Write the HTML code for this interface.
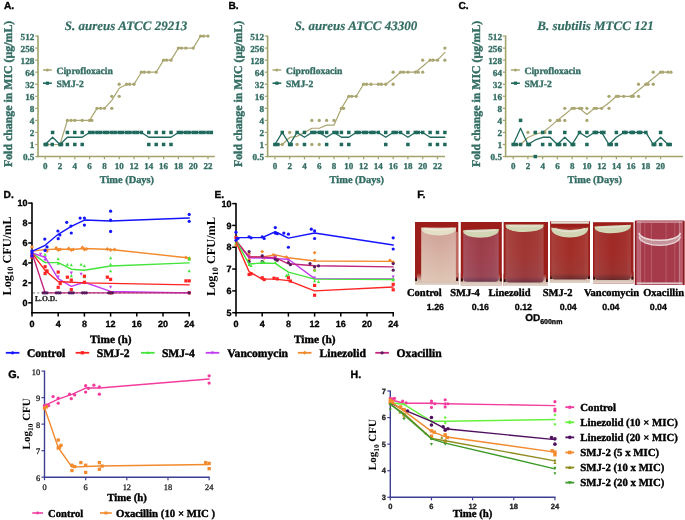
<!DOCTYPE html>
<html><head><meta charset="utf-8"><style>
html,body{margin:0;padding:0;background:#fff;}
body{width:685px;height:520px;overflow:hidden;}
svg{display:block;will-change:transform;}
text{text-rendering:geometricPrecision;}
</style></head><body>
<svg width="685" height="520" viewBox="0 0 685 520">
<rect width="685" height="520" fill="#fff"/>
<line x1="38" y1="35.55" x2="38" y2="157.25" stroke="#a1a36b" stroke-width="1.6"/>
<line x1="37.3" y1="156.55" x2="214.8" y2="156.55" stroke="#a1a36b" stroke-width="1.6"/>
<line x1="35.2" y1="156.55" x2="38" y2="156.55" stroke="#a1a36b" stroke-width="1.2"/>
<text x="34.4" y="160.25" font-family='"Liberation Serif", serif' font-size="9.2" font-weight="bold" fill="#336d63" stroke="#336d63" stroke-width="0.32" text-anchor="end">0.5</text>
<line x1="35.2" y1="144.5" x2="38" y2="144.5" stroke="#a1a36b" stroke-width="1.2"/>
<text x="34.4" y="148.2" font-family='"Liberation Serif", serif' font-size="9.2" font-weight="bold" fill="#336d63" stroke="#336d63" stroke-width="0.32" text-anchor="end">1</text>
<line x1="35.2" y1="132.45" x2="38" y2="132.45" stroke="#a1a36b" stroke-width="1.2"/>
<text x="34.4" y="136.15" font-family='"Liberation Serif", serif' font-size="9.2" font-weight="bold" fill="#336d63" stroke="#336d63" stroke-width="0.32" text-anchor="end">2</text>
<line x1="35.2" y1="120.4" x2="38" y2="120.4" stroke="#a1a36b" stroke-width="1.2"/>
<text x="34.4" y="124.1" font-family='"Liberation Serif", serif' font-size="9.2" font-weight="bold" fill="#336d63" stroke="#336d63" stroke-width="0.32" text-anchor="end">4</text>
<line x1="35.2" y1="108.35" x2="38" y2="108.35" stroke="#a1a36b" stroke-width="1.2"/>
<text x="34.4" y="112.05" font-family='"Liberation Serif", serif' font-size="9.2" font-weight="bold" fill="#336d63" stroke="#336d63" stroke-width="0.32" text-anchor="end">8</text>
<line x1="35.2" y1="96.3" x2="38" y2="96.3" stroke="#a1a36b" stroke-width="1.2"/>
<text x="34.4" y="100" font-family='"Liberation Serif", serif' font-size="9.2" font-weight="bold" fill="#336d63" stroke="#336d63" stroke-width="0.32" text-anchor="end">16</text>
<line x1="35.2" y1="84.25" x2="38" y2="84.25" stroke="#a1a36b" stroke-width="1.2"/>
<text x="34.4" y="87.95" font-family='"Liberation Serif", serif' font-size="9.2" font-weight="bold" fill="#336d63" stroke="#336d63" stroke-width="0.32" text-anchor="end">32</text>
<line x1="35.2" y1="72.2" x2="38" y2="72.2" stroke="#a1a36b" stroke-width="1.2"/>
<text x="34.4" y="75.9" font-family='"Liberation Serif", serif' font-size="9.2" font-weight="bold" fill="#336d63" stroke="#336d63" stroke-width="0.32" text-anchor="end">64</text>
<line x1="35.2" y1="60.15" x2="38" y2="60.15" stroke="#a1a36b" stroke-width="1.2"/>
<text x="34.4" y="63.85" font-family='"Liberation Serif", serif' font-size="9.2" font-weight="bold" fill="#336d63" stroke="#336d63" stroke-width="0.32" text-anchor="end">128</text>
<line x1="35.2" y1="48.1" x2="38" y2="48.1" stroke="#a1a36b" stroke-width="1.2"/>
<text x="34.4" y="51.8" font-family='"Liberation Serif", serif' font-size="9.2" font-weight="bold" fill="#336d63" stroke="#336d63" stroke-width="0.32" text-anchor="end">256</text>
<line x1="35.2" y1="36.05" x2="38" y2="36.05" stroke="#a1a36b" stroke-width="1.2"/>
<text x="34.4" y="39.75" font-family='"Liberation Serif", serif' font-size="9.2" font-weight="bold" fill="#336d63" stroke="#336d63" stroke-width="0.32" text-anchor="end">512</text>
<line x1="45.2" y1="156.55" x2="45.2" y2="159.35" stroke="#a1a36b" stroke-width="1.2"/>
<text x="45.2" y="168.8" font-family='"Liberation Serif", serif' font-size="9" font-weight="bold" fill="#336d63" stroke="#336d63" stroke-width="0.32" text-anchor="middle">0</text>
<line x1="60" y1="156.55" x2="60" y2="159.35" stroke="#a1a36b" stroke-width="1.2"/>
<text x="60" y="168.8" font-family='"Liberation Serif", serif' font-size="9" font-weight="bold" fill="#336d63" stroke="#336d63" stroke-width="0.32" text-anchor="middle">2</text>
<line x1="74.8" y1="156.55" x2="74.8" y2="159.35" stroke="#a1a36b" stroke-width="1.2"/>
<text x="74.8" y="168.8" font-family='"Liberation Serif", serif' font-size="9" font-weight="bold" fill="#336d63" stroke="#336d63" stroke-width="0.32" text-anchor="middle">4</text>
<line x1="89.6" y1="156.55" x2="89.6" y2="159.35" stroke="#a1a36b" stroke-width="1.2"/>
<text x="89.6" y="168.8" font-family='"Liberation Serif", serif' font-size="9" font-weight="bold" fill="#336d63" stroke="#336d63" stroke-width="0.32" text-anchor="middle">6</text>
<line x1="104.4" y1="156.55" x2="104.4" y2="159.35" stroke="#a1a36b" stroke-width="1.2"/>
<text x="104.4" y="168.8" font-family='"Liberation Serif", serif' font-size="9" font-weight="bold" fill="#336d63" stroke="#336d63" stroke-width="0.32" text-anchor="middle">8</text>
<line x1="119.2" y1="156.55" x2="119.2" y2="159.35" stroke="#a1a36b" stroke-width="1.2"/>
<text x="119.2" y="168.8" font-family='"Liberation Serif", serif' font-size="9" font-weight="bold" fill="#336d63" stroke="#336d63" stroke-width="0.32" text-anchor="middle">10</text>
<line x1="134" y1="156.55" x2="134" y2="159.35" stroke="#a1a36b" stroke-width="1.2"/>
<text x="134" y="168.8" font-family='"Liberation Serif", serif' font-size="9" font-weight="bold" fill="#336d63" stroke="#336d63" stroke-width="0.32" text-anchor="middle">12</text>
<line x1="148.8" y1="156.55" x2="148.8" y2="159.35" stroke="#a1a36b" stroke-width="1.2"/>
<text x="148.8" y="168.8" font-family='"Liberation Serif", serif' font-size="9" font-weight="bold" fill="#336d63" stroke="#336d63" stroke-width="0.32" text-anchor="middle">14</text>
<line x1="163.6" y1="156.55" x2="163.6" y2="159.35" stroke="#a1a36b" stroke-width="1.2"/>
<text x="163.6" y="168.8" font-family='"Liberation Serif", serif' font-size="9" font-weight="bold" fill="#336d63" stroke="#336d63" stroke-width="0.32" text-anchor="middle">16</text>
<line x1="178.4" y1="156.55" x2="178.4" y2="159.35" stroke="#a1a36b" stroke-width="1.2"/>
<text x="178.4" y="168.8" font-family='"Liberation Serif", serif' font-size="9" font-weight="bold" fill="#336d63" stroke="#336d63" stroke-width="0.32" text-anchor="middle">18</text>
<line x1="193.2" y1="156.55" x2="193.2" y2="159.35" stroke="#a1a36b" stroke-width="1.2"/>
<text x="193.2" y="168.8" font-family='"Liberation Serif", serif' font-size="9" font-weight="bold" fill="#336d63" stroke="#336d63" stroke-width="0.32" text-anchor="middle">20</text>
<line x1="208" y1="156.55" x2="208" y2="159.35" stroke="#a1a36b" stroke-width="1.2"/>
<text x="208" y="168.8" font-family='"Liberation Serif", serif' font-size="9" font-weight="bold" fill="#336d63" stroke="#336d63" stroke-width="0.32" text-anchor="middle">22</text>
<text x="12.2" y="93.9" font-family='"Liberation Serif", serif' font-size="11.85" font-weight="bold" fill="#336d63" stroke="#336d63" stroke-width="0.41" text-anchor="middle" transform="rotate(-90 12.2 93.9)">Fold change in MIC (µg/mL)</text>
<text x="126.9" y="182.8" font-family='"Liberation Serif", serif' font-size="10.4" font-weight="bold" fill="#336d63" stroke="#336d63" stroke-width="0.36" text-anchor="middle">Time (Days)</text>
<text x="126" y="29.7" font-family='"Liberation Serif", serif' font-size="13" font-weight="bold" font-style="italic" fill="#336d63" stroke="#336d63" stroke-width="0.2" text-anchor="middle">S. aureus ATCC 29213</text>
<text x="4" y="9.2" font-family='"Liberation Sans", sans-serif' font-size="10.2" font-weight="bold" fill="#000" stroke="#000" stroke-width="0.36" text-anchor="start">A.</text>
<circle cx="45.2" cy="144.5" r="1.65" fill="#aaa671"/>
<circle cx="52.6" cy="144.5" r="1.65" fill="#aaa671"/>
<circle cx="60" cy="144.5" r="1.65" fill="#aaa671"/>
<circle cx="67.4" cy="120.4" r="1.65" fill="#aaa671"/>
<circle cx="71.1" cy="120.4" r="1.65" fill="#aaa671"/>
<circle cx="74.8" cy="120.4" r="1.65" fill="#aaa671"/>
<circle cx="82.2" cy="120.4" r="1.65" fill="#aaa671"/>
<circle cx="89.6" cy="120.4" r="1.65" fill="#aaa671"/>
<circle cx="91.82" cy="120.4" r="1.65" fill="#aaa671"/>
<circle cx="97" cy="108.35" r="1.65" fill="#aaa671"/>
<circle cx="100.7" cy="108.35" r="1.65" fill="#aaa671"/>
<circle cx="104.4" cy="108.35" r="1.65" fill="#aaa671"/>
<circle cx="111.8" cy="108.35" r="1.65" fill="#aaa671"/>
<circle cx="111.8" cy="96.3" r="1.65" fill="#aaa671"/>
<circle cx="119.2" cy="84.25" r="1.65" fill="#aaa671"/>
<circle cx="119.2" cy="96.3" r="1.65" fill="#aaa671"/>
<circle cx="126.6" cy="84.25" r="1.65" fill="#aaa671"/>
<circle cx="129.56" cy="84.25" r="1.65" fill="#aaa671"/>
<circle cx="134" cy="84.25" r="1.65" fill="#aaa671"/>
<circle cx="141.4" cy="72.2" r="1.65" fill="#aaa671"/>
<circle cx="144.36" cy="72.2" r="1.65" fill="#aaa671"/>
<circle cx="148.8" cy="72.2" r="1.65" fill="#aaa671"/>
<circle cx="156.2" cy="72.2" r="1.65" fill="#aaa671"/>
<circle cx="163.6" cy="60.15" r="1.65" fill="#aaa671"/>
<circle cx="166.56" cy="60.15" r="1.65" fill="#aaa671"/>
<circle cx="171" cy="60.15" r="1.65" fill="#aaa671"/>
<circle cx="178.4" cy="48.1" r="1.65" fill="#aaa671"/>
<circle cx="181.36" cy="48.1" r="1.65" fill="#aaa671"/>
<circle cx="185.8" cy="48.1" r="1.65" fill="#aaa671"/>
<circle cx="193.2" cy="48.1" r="1.65" fill="#aaa671"/>
<circle cx="200.6" cy="36.05" r="1.65" fill="#aaa671"/>
<circle cx="203.56" cy="36.05" r="1.65" fill="#aaa671"/>
<circle cx="208" cy="36.05" r="1.65" fill="#aaa671"/>
<polyline points="45.2,144.5 52.6,144.5 60,144.5 67.4,120.4 74.8,120.4 82.2,120.4 89.6,120.4 97,108.35 104.4,108.35 111.8,100.32 119.2,88.27 126.6,84.25 134,84.25 141.4,72.2 148.8,72.2 156.2,72.2 163.6,60.15 171,60.15 178.4,48.1 185.8,48.1 193.2,48.1 200.6,36.05 208,36.05" fill="none" stroke="#aaa671" stroke-width="1.2" stroke-linejoin="round" stroke-linecap="round"/>
<rect x="43.45" y="142.75" width="3.5" height="3.5" fill="#1f6a5c"/>
<rect x="44.93" y="142.75" width="3.5" height="3.5" fill="#1f6a5c"/>
<rect x="50.48" y="142.75" width="3.5" height="3.5" fill="#1f6a5c"/>
<rect x="50.85" y="130.7" width="3.5" height="3.5" fill="#1f6a5c"/>
<rect x="58.25" y="142.75" width="3.5" height="3.5" fill="#1f6a5c"/>
<rect x="59.73" y="142.75" width="3.5" height="3.5" fill="#1f6a5c"/>
<rect x="65.65" y="130.7" width="3.5" height="3.5" fill="#1f6a5c"/>
<rect x="65.65" y="142.75" width="3.5" height="3.5" fill="#1f6a5c"/>
<rect x="73.05" y="130.7" width="3.5" height="3.5" fill="#1f6a5c"/>
<rect x="73.05" y="142.75" width="3.5" height="3.5" fill="#1f6a5c"/>
<rect x="80.45" y="130.7" width="3.5" height="3.5" fill="#1f6a5c"/>
<rect x="80.45" y="142.75" width="3.5" height="3.5" fill="#1f6a5c"/>
<rect x="87.85" y="130.7" width="3.5" height="3.5" fill="#1f6a5c"/>
<rect x="95.25" y="130.7" width="3.5" height="3.5" fill="#1f6a5c"/>
<rect x="102.65" y="130.7" width="3.5" height="3.5" fill="#1f6a5c"/>
<rect x="110.05" y="130.7" width="3.5" height="3.5" fill="#1f6a5c"/>
<rect x="117.45" y="130.7" width="3.5" height="3.5" fill="#1f6a5c"/>
<rect x="124.85" y="130.7" width="3.5" height="3.5" fill="#1f6a5c"/>
<rect x="132.25" y="130.7" width="3.5" height="3.5" fill="#1f6a5c"/>
<rect x="139.65" y="130.7" width="3.5" height="3.5" fill="#1f6a5c"/>
<rect x="147.05" y="130.7" width="3.5" height="3.5" fill="#1f6a5c"/>
<rect x="154.45" y="130.7" width="3.5" height="3.5" fill="#1f6a5c"/>
<rect x="161.85" y="130.7" width="3.5" height="3.5" fill="#1f6a5c"/>
<rect x="169.25" y="130.7" width="3.5" height="3.5" fill="#1f6a5c"/>
<rect x="176.65" y="130.7" width="3.5" height="3.5" fill="#1f6a5c"/>
<rect x="184.05" y="130.7" width="3.5" height="3.5" fill="#1f6a5c"/>
<rect x="191.45" y="130.7" width="3.5" height="3.5" fill="#1f6a5c"/>
<rect x="198.85" y="130.7" width="3.5" height="3.5" fill="#1f6a5c"/>
<rect x="206.25" y="130.7" width="3.5" height="3.5" fill="#1f6a5c"/>
<rect x="91.18" y="130.7" width="3.5" height="3.5" fill="#1f6a5c"/>
<rect x="98.58" y="130.7" width="3.5" height="3.5" fill="#1f6a5c"/>
<rect x="105.98" y="130.7" width="3.5" height="3.5" fill="#1f6a5c"/>
<rect x="113.38" y="130.7" width="3.5" height="3.5" fill="#1f6a5c"/>
<rect x="120.78" y="130.7" width="3.5" height="3.5" fill="#1f6a5c"/>
<rect x="128.18" y="130.7" width="3.5" height="3.5" fill="#1f6a5c"/>
<rect x="135.58" y="130.7" width="3.5" height="3.5" fill="#1f6a5c"/>
<rect x="179.98" y="130.7" width="3.5" height="3.5" fill="#1f6a5c"/>
<rect x="187.38" y="130.7" width="3.5" height="3.5" fill="#1f6a5c"/>
<rect x="194.78" y="130.7" width="3.5" height="3.5" fill="#1f6a5c"/>
<rect x="202.18" y="130.7" width="3.5" height="3.5" fill="#1f6a5c"/>
<rect x="209.58" y="130.7" width="3.5" height="3.5" fill="#1f6a5c"/>
<rect x="147.05" y="142.75" width="3.5" height="3.5" fill="#1f6a5c"/>
<rect x="154.45" y="142.75" width="3.5" height="3.5" fill="#1f6a5c"/>
<rect x="161.85" y="142.75" width="3.5" height="3.5" fill="#1f6a5c"/>
<rect x="169.25" y="142.75" width="3.5" height="3.5" fill="#1f6a5c"/>
<polyline points="45.2,144.5 52.6,137.27 60,144.5 67.4,137.27 74.8,137.27 82.2,137.27 89.6,132.45 97,132.45 104.4,132.45 111.8,132.45 119.2,132.45 126.6,132.45 134,132.45 141.4,132.45 148.8,137.27 156.2,137.27 163.6,137.27 171,137.27 178.4,132.45 185.8,132.45 193.2,132.45 200.6,132.45 208,132.45" fill="none" stroke="#1f6a5c" stroke-width="1.3" stroke-linejoin="round" stroke-linecap="round"/>
<line x1="43" y1="70" x2="51.8" y2="70" stroke="#aaa671" stroke-width="1.5"/>
<circle cx="47.4" cy="70" r="1.5" fill="#aaa671"/>
<text x="56.5" y="73.77" font-family='"Liberation Serif", serif' font-size="9.6" font-weight="bold" fill="#336d63" stroke="#336d63" stroke-width="0.34" text-anchor="start">Ciprofloxacin</text>
<line x1="43" y1="83.2" x2="51.8" y2="83.2" stroke="#1f6a5c" stroke-width="1.6"/>
<rect x="45.8" y="81.6" width="3.2" height="3.2" fill="#1f6a5c"/>
<text x="56.5" y="86.97" font-family='"Liberation Serif", serif' font-size="9.6" font-weight="bold" fill="#336d63" stroke="#336d63" stroke-width="0.34" text-anchor="start">SMJ-2</text>
<line x1="267.6" y1="35.55" x2="267.6" y2="157.25" stroke="#a1a36b" stroke-width="1.6"/>
<line x1="266.9" y1="156.55" x2="445" y2="156.55" stroke="#a1a36b" stroke-width="1.6"/>
<line x1="264.8" y1="156.55" x2="267.6" y2="156.55" stroke="#a1a36b" stroke-width="1.2"/>
<text x="264" y="160.25" font-family='"Liberation Serif", serif' font-size="9.2" font-weight="bold" fill="#336d63" stroke="#336d63" stroke-width="0.32" text-anchor="end">0.5</text>
<line x1="264.8" y1="144.5" x2="267.6" y2="144.5" stroke="#a1a36b" stroke-width="1.2"/>
<text x="264" y="148.2" font-family='"Liberation Serif", serif' font-size="9.2" font-weight="bold" fill="#336d63" stroke="#336d63" stroke-width="0.32" text-anchor="end">1</text>
<line x1="264.8" y1="132.45" x2="267.6" y2="132.45" stroke="#a1a36b" stroke-width="1.2"/>
<text x="264" y="136.15" font-family='"Liberation Serif", serif' font-size="9.2" font-weight="bold" fill="#336d63" stroke="#336d63" stroke-width="0.32" text-anchor="end">2</text>
<line x1="264.8" y1="120.4" x2="267.6" y2="120.4" stroke="#a1a36b" stroke-width="1.2"/>
<text x="264" y="124.1" font-family='"Liberation Serif", serif' font-size="9.2" font-weight="bold" fill="#336d63" stroke="#336d63" stroke-width="0.32" text-anchor="end">4</text>
<line x1="264.8" y1="108.35" x2="267.6" y2="108.35" stroke="#a1a36b" stroke-width="1.2"/>
<text x="264" y="112.05" font-family='"Liberation Serif", serif' font-size="9.2" font-weight="bold" fill="#336d63" stroke="#336d63" stroke-width="0.32" text-anchor="end">8</text>
<line x1="264.8" y1="96.3" x2="267.6" y2="96.3" stroke="#a1a36b" stroke-width="1.2"/>
<text x="264" y="100" font-family='"Liberation Serif", serif' font-size="9.2" font-weight="bold" fill="#336d63" stroke="#336d63" stroke-width="0.32" text-anchor="end">16</text>
<line x1="264.8" y1="84.25" x2="267.6" y2="84.25" stroke="#a1a36b" stroke-width="1.2"/>
<text x="264" y="87.95" font-family='"Liberation Serif", serif' font-size="9.2" font-weight="bold" fill="#336d63" stroke="#336d63" stroke-width="0.32" text-anchor="end">32</text>
<line x1="264.8" y1="72.2" x2="267.6" y2="72.2" stroke="#a1a36b" stroke-width="1.2"/>
<text x="264" y="75.9" font-family='"Liberation Serif", serif' font-size="9.2" font-weight="bold" fill="#336d63" stroke="#336d63" stroke-width="0.32" text-anchor="end">64</text>
<line x1="264.8" y1="60.15" x2="267.6" y2="60.15" stroke="#a1a36b" stroke-width="1.2"/>
<text x="264" y="63.85" font-family='"Liberation Serif", serif' font-size="9.2" font-weight="bold" fill="#336d63" stroke="#336d63" stroke-width="0.32" text-anchor="end">128</text>
<line x1="264.8" y1="48.1" x2="267.6" y2="48.1" stroke="#a1a36b" stroke-width="1.2"/>
<text x="264" y="51.8" font-family='"Liberation Serif", serif' font-size="9.2" font-weight="bold" fill="#336d63" stroke="#336d63" stroke-width="0.32" text-anchor="end">256</text>
<line x1="264.8" y1="36.05" x2="267.6" y2="36.05" stroke="#a1a36b" stroke-width="1.2"/>
<text x="264" y="39.75" font-family='"Liberation Serif", serif' font-size="9.2" font-weight="bold" fill="#336d63" stroke="#336d63" stroke-width="0.32" text-anchor="end">512</text>
<line x1="274.9" y1="156.55" x2="274.9" y2="159.35" stroke="#a1a36b" stroke-width="1.2"/>
<text x="274.9" y="168.8" font-family='"Liberation Serif", serif' font-size="9" font-weight="bold" fill="#336d63" stroke="#336d63" stroke-width="0.32" text-anchor="middle">0</text>
<line x1="289.68" y1="156.55" x2="289.68" y2="159.35" stroke="#a1a36b" stroke-width="1.2"/>
<text x="289.68" y="168.8" font-family='"Liberation Serif", serif' font-size="9" font-weight="bold" fill="#336d63" stroke="#336d63" stroke-width="0.32" text-anchor="middle">2</text>
<line x1="304.46" y1="156.55" x2="304.46" y2="159.35" stroke="#a1a36b" stroke-width="1.2"/>
<text x="304.46" y="168.8" font-family='"Liberation Serif", serif' font-size="9" font-weight="bold" fill="#336d63" stroke="#336d63" stroke-width="0.32" text-anchor="middle">4</text>
<line x1="319.24" y1="156.55" x2="319.24" y2="159.35" stroke="#a1a36b" stroke-width="1.2"/>
<text x="319.24" y="168.8" font-family='"Liberation Serif", serif' font-size="9" font-weight="bold" fill="#336d63" stroke="#336d63" stroke-width="0.32" text-anchor="middle">6</text>
<line x1="334.02" y1="156.55" x2="334.02" y2="159.35" stroke="#a1a36b" stroke-width="1.2"/>
<text x="334.02" y="168.8" font-family='"Liberation Serif", serif' font-size="9" font-weight="bold" fill="#336d63" stroke="#336d63" stroke-width="0.32" text-anchor="middle">8</text>
<line x1="348.8" y1="156.55" x2="348.8" y2="159.35" stroke="#a1a36b" stroke-width="1.2"/>
<text x="348.8" y="168.8" font-family='"Liberation Serif", serif' font-size="9" font-weight="bold" fill="#336d63" stroke="#336d63" stroke-width="0.32" text-anchor="middle">10</text>
<line x1="363.58" y1="156.55" x2="363.58" y2="159.35" stroke="#a1a36b" stroke-width="1.2"/>
<text x="363.58" y="168.8" font-family='"Liberation Serif", serif' font-size="9" font-weight="bold" fill="#336d63" stroke="#336d63" stroke-width="0.32" text-anchor="middle">12</text>
<line x1="378.36" y1="156.55" x2="378.36" y2="159.35" stroke="#a1a36b" stroke-width="1.2"/>
<text x="378.36" y="168.8" font-family='"Liberation Serif", serif' font-size="9" font-weight="bold" fill="#336d63" stroke="#336d63" stroke-width="0.32" text-anchor="middle">14</text>
<line x1="393.14" y1="156.55" x2="393.14" y2="159.35" stroke="#a1a36b" stroke-width="1.2"/>
<text x="393.14" y="168.8" font-family='"Liberation Serif", serif' font-size="9" font-weight="bold" fill="#336d63" stroke="#336d63" stroke-width="0.32" text-anchor="middle">16</text>
<line x1="407.92" y1="156.55" x2="407.92" y2="159.35" stroke="#a1a36b" stroke-width="1.2"/>
<text x="407.92" y="168.8" font-family='"Liberation Serif", serif' font-size="9" font-weight="bold" fill="#336d63" stroke="#336d63" stroke-width="0.32" text-anchor="middle">18</text>
<line x1="422.7" y1="156.55" x2="422.7" y2="159.35" stroke="#a1a36b" stroke-width="1.2"/>
<text x="422.7" y="168.8" font-family='"Liberation Serif", serif' font-size="9" font-weight="bold" fill="#336d63" stroke="#336d63" stroke-width="0.32" text-anchor="middle">20</text>
<line x1="437.48" y1="156.55" x2="437.48" y2="159.35" stroke="#a1a36b" stroke-width="1.2"/>
<text x="437.48" y="168.8" font-family='"Liberation Serif", serif' font-size="9" font-weight="bold" fill="#336d63" stroke="#336d63" stroke-width="0.32" text-anchor="middle">22</text>
<text x="242" y="93.9" font-family='"Liberation Serif", serif' font-size="11.85" font-weight="bold" fill="#336d63" stroke="#336d63" stroke-width="0.41" text-anchor="middle" transform="rotate(-90 242 93.9)">Fold change in MIC (µg/mL)</text>
<text x="356.8" y="182.8" font-family='"Liberation Serif", serif' font-size="10.4" font-weight="bold" fill="#336d63" stroke="#336d63" stroke-width="0.36" text-anchor="middle">Time (Days)</text>
<text x="356" y="29.7" font-family='"Liberation Serif", serif' font-size="13" font-weight="bold" font-style="italic" fill="#336d63" stroke="#336d63" stroke-width="0.2" text-anchor="middle">S. aureus ATCC 43300</text>
<text x="228.5" y="9.2" font-family='"Liberation Sans", sans-serif' font-size="10.2" font-weight="bold" fill="#000" stroke="#000" stroke-width="0.36" text-anchor="start">B.</text>
<circle cx="274.9" cy="144.5" r="1.65" fill="#aaa671"/>
<circle cx="282.29" cy="144.5" r="1.65" fill="#aaa671"/>
<circle cx="289.68" cy="132.45" r="1.65" fill="#aaa671"/>
<circle cx="297.07" cy="144.5" r="1.65" fill="#aaa671"/>
<circle cx="304.46" cy="132.45" r="1.65" fill="#aaa671"/>
<circle cx="311.85" cy="120.4" r="1.65" fill="#aaa671"/>
<circle cx="311.85" cy="144.5" r="1.65" fill="#aaa671"/>
<circle cx="319.24" cy="120.4" r="1.65" fill="#aaa671"/>
<circle cx="319.24" cy="144.5" r="1.65" fill="#aaa671"/>
<circle cx="326.63" cy="120.4" r="1.65" fill="#aaa671"/>
<circle cx="334.02" cy="120.4" r="1.65" fill="#aaa671"/>
<circle cx="341.41" cy="108.35" r="1.65" fill="#aaa671"/>
<circle cx="343.63" cy="108.35" r="1.65" fill="#aaa671"/>
<circle cx="348.8" cy="96.3" r="1.65" fill="#aaa671"/>
<circle cx="351.76" cy="96.3" r="1.65" fill="#aaa671"/>
<circle cx="356.19" cy="96.3" r="1.65" fill="#aaa671"/>
<circle cx="363.58" cy="84.25" r="1.65" fill="#aaa671"/>
<circle cx="366.54" cy="84.25" r="1.65" fill="#aaa671"/>
<circle cx="370.97" cy="84.25" r="1.65" fill="#aaa671"/>
<circle cx="378.36" cy="84.25" r="1.65" fill="#aaa671"/>
<circle cx="381.32" cy="84.25" r="1.65" fill="#aaa671"/>
<circle cx="385.75" cy="84.25" r="1.65" fill="#aaa671"/>
<circle cx="393.14" cy="84.25" r="1.65" fill="#aaa671"/>
<circle cx="393.14" cy="72.2" r="1.65" fill="#aaa671"/>
<circle cx="400.53" cy="72.2" r="1.65" fill="#aaa671"/>
<circle cx="403.49" cy="72.2" r="1.65" fill="#aaa671"/>
<circle cx="407.92" cy="72.2" r="1.65" fill="#aaa671"/>
<circle cx="415.31" cy="72.2" r="1.65" fill="#aaa671"/>
<circle cx="418.27" cy="72.2" r="1.65" fill="#aaa671"/>
<circle cx="422.7" cy="72.2" r="1.65" fill="#aaa671"/>
<circle cx="422.7" cy="60.15" r="1.65" fill="#aaa671"/>
<circle cx="430.09" cy="60.15" r="1.65" fill="#aaa671"/>
<circle cx="433.05" cy="60.15" r="1.65" fill="#aaa671"/>
<circle cx="437.48" cy="60.15" r="1.65" fill="#aaa671"/>
<circle cx="444.87" cy="60.15" r="1.65" fill="#aaa671"/>
<circle cx="444.87" cy="48.1" r="1.65" fill="#aaa671"/>
<polyline points="274.9,144.5 282.29,144.5 289.68,137.45 297.07,136.33 304.46,132.45 311.85,128.23 319.24,128.23 326.63,125.11 334.02,125.11 341.41,108.35 348.8,96.3 356.19,96.3 363.58,84.25 370.97,84.25 378.36,84.25 385.75,84.25 393.14,78.71 400.53,72.2 407.92,72.2 415.31,72.2 422.7,66.27 430.09,60.15 437.48,60.15 444.87,52.39" fill="none" stroke="#aaa671" stroke-width="1.2" stroke-linejoin="round" stroke-linecap="round"/>
<rect x="273.15" y="142.75" width="3.5" height="3.5" fill="#1f6a5c"/>
<rect x="276.11" y="142.75" width="3.5" height="3.5" fill="#1f6a5c"/>
<rect x="280.54" y="130.7" width="3.5" height="3.5" fill="#1f6a5c"/>
<rect x="287.93" y="142.75" width="3.5" height="3.5" fill="#1f6a5c"/>
<rect x="289.41" y="142.75" width="3.5" height="3.5" fill="#1f6a5c"/>
<rect x="295.32" y="130.7" width="3.5" height="3.5" fill="#1f6a5c"/>
<rect x="302.71" y="130.7" width="3.5" height="3.5" fill="#1f6a5c"/>
<rect x="302.71" y="142.75" width="3.5" height="3.5" fill="#1f6a5c"/>
<rect x="310.1" y="130.7" width="3.5" height="3.5" fill="#1f6a5c"/>
<rect x="313.06" y="130.7" width="3.5" height="3.5" fill="#1f6a5c"/>
<rect x="317.49" y="130.7" width="3.5" height="3.5" fill="#1f6a5c"/>
<rect x="320.45" y="130.7" width="3.5" height="3.5" fill="#1f6a5c"/>
<rect x="324.88" y="130.7" width="3.5" height="3.5" fill="#1f6a5c"/>
<rect x="324.88" y="142.75" width="3.5" height="3.5" fill="#1f6a5c"/>
<rect x="332.27" y="130.7" width="3.5" height="3.5" fill="#1f6a5c"/>
<rect x="335.23" y="130.7" width="3.5" height="3.5" fill="#1f6a5c"/>
<rect x="339.66" y="130.7" width="3.5" height="3.5" fill="#1f6a5c"/>
<rect x="339.66" y="142.75" width="3.5" height="3.5" fill="#1f6a5c"/>
<rect x="347.05" y="130.7" width="3.5" height="3.5" fill="#1f6a5c"/>
<rect x="347.05" y="142.75" width="3.5" height="3.5" fill="#1f6a5c"/>
<rect x="354.44" y="130.7" width="3.5" height="3.5" fill="#1f6a5c"/>
<rect x="357.4" y="130.7" width="3.5" height="3.5" fill="#1f6a5c"/>
<rect x="361.83" y="130.7" width="3.5" height="3.5" fill="#1f6a5c"/>
<rect x="364.79" y="130.7" width="3.5" height="3.5" fill="#1f6a5c"/>
<rect x="369.22" y="130.7" width="3.5" height="3.5" fill="#1f6a5c"/>
<rect x="372.18" y="130.7" width="3.5" height="3.5" fill="#1f6a5c"/>
<rect x="376.61" y="130.7" width="3.5" height="3.5" fill="#1f6a5c"/>
<rect x="384" y="130.7" width="3.5" height="3.5" fill="#1f6a5c"/>
<rect x="384" y="142.75" width="3.5" height="3.5" fill="#1f6a5c"/>
<rect x="391.39" y="130.7" width="3.5" height="3.5" fill="#1f6a5c"/>
<rect x="394.35" y="130.7" width="3.5" height="3.5" fill="#1f6a5c"/>
<rect x="398.78" y="130.7" width="3.5" height="3.5" fill="#1f6a5c"/>
<rect x="406.17" y="130.7" width="3.5" height="3.5" fill="#1f6a5c"/>
<rect x="406.17" y="142.75" width="3.5" height="3.5" fill="#1f6a5c"/>
<rect x="413.56" y="130.7" width="3.5" height="3.5" fill="#1f6a5c"/>
<rect x="416.52" y="130.7" width="3.5" height="3.5" fill="#1f6a5c"/>
<rect x="420.95" y="130.7" width="3.5" height="3.5" fill="#1f6a5c"/>
<rect x="428.34" y="130.7" width="3.5" height="3.5" fill="#1f6a5c"/>
<rect x="428.34" y="142.75" width="3.5" height="3.5" fill="#1f6a5c"/>
<rect x="435.73" y="130.7" width="3.5" height="3.5" fill="#1f6a5c"/>
<rect x="435.73" y="142.75" width="3.5" height="3.5" fill="#1f6a5c"/>
<rect x="443.12" y="130.7" width="3.5" height="3.5" fill="#1f6a5c"/>
<rect x="443.12" y="142.75" width="3.5" height="3.5" fill="#1f6a5c"/>
<polyline points="274.9,144.5 282.29,132.45 289.68,144.5 297.07,132.45 304.46,137.27 311.85,132.45 319.24,132.45 326.63,137.27 334.02,132.45 341.41,137.27 348.8,137.27 356.19,132.45 363.58,132.45 370.97,132.45 378.36,132.45 385.75,137.27 393.14,132.45 400.53,132.45 407.92,137.27 415.31,132.45 422.7,132.45 430.09,137.27 437.48,137.27 444.87,137.27" fill="none" stroke="#1f6a5c" stroke-width="1.3" stroke-linejoin="round" stroke-linecap="round"/>
<line x1="272.5" y1="70" x2="281.3" y2="70" stroke="#aaa671" stroke-width="1.5"/>
<circle cx="276.9" cy="70" r="1.5" fill="#aaa671"/>
<text x="286" y="73.77" font-family='"Liberation Serif", serif' font-size="9.6" font-weight="bold" fill="#336d63" stroke="#336d63" stroke-width="0.34" text-anchor="start">Ciprofloxacin</text>
<line x1="272.5" y1="83.2" x2="281.3" y2="83.2" stroke="#1f6a5c" stroke-width="1.6"/>
<rect x="275.3" y="81.6" width="3.2" height="3.2" fill="#1f6a5c"/>
<text x="286" y="86.97" font-family='"Liberation Serif", serif' font-size="9.6" font-weight="bold" fill="#336d63" stroke="#336d63" stroke-width="0.34" text-anchor="start">SMJ-2</text>
<line x1="505.6" y1="35.55" x2="505.6" y2="157.25" stroke="#a1a36b" stroke-width="1.6"/>
<line x1="504.9" y1="156.55" x2="683" y2="156.55" stroke="#a1a36b" stroke-width="1.6"/>
<line x1="502.8" y1="156.55" x2="505.6" y2="156.55" stroke="#a1a36b" stroke-width="1.2"/>
<text x="502" y="160.25" font-family='"Liberation Serif", serif' font-size="9.2" font-weight="bold" fill="#336d63" stroke="#336d63" stroke-width="0.32" text-anchor="end">0.5</text>
<line x1="502.8" y1="144.5" x2="505.6" y2="144.5" stroke="#a1a36b" stroke-width="1.2"/>
<text x="502" y="148.2" font-family='"Liberation Serif", serif' font-size="9.2" font-weight="bold" fill="#336d63" stroke="#336d63" stroke-width="0.32" text-anchor="end">1</text>
<line x1="502.8" y1="132.45" x2="505.6" y2="132.45" stroke="#a1a36b" stroke-width="1.2"/>
<text x="502" y="136.15" font-family='"Liberation Serif", serif' font-size="9.2" font-weight="bold" fill="#336d63" stroke="#336d63" stroke-width="0.32" text-anchor="end">2</text>
<line x1="502.8" y1="120.4" x2="505.6" y2="120.4" stroke="#a1a36b" stroke-width="1.2"/>
<text x="502" y="124.1" font-family='"Liberation Serif", serif' font-size="9.2" font-weight="bold" fill="#336d63" stroke="#336d63" stroke-width="0.32" text-anchor="end">4</text>
<line x1="502.8" y1="108.35" x2="505.6" y2="108.35" stroke="#a1a36b" stroke-width="1.2"/>
<text x="502" y="112.05" font-family='"Liberation Serif", serif' font-size="9.2" font-weight="bold" fill="#336d63" stroke="#336d63" stroke-width="0.32" text-anchor="end">8</text>
<line x1="502.8" y1="96.3" x2="505.6" y2="96.3" stroke="#a1a36b" stroke-width="1.2"/>
<text x="502" y="100" font-family='"Liberation Serif", serif' font-size="9.2" font-weight="bold" fill="#336d63" stroke="#336d63" stroke-width="0.32" text-anchor="end">16</text>
<line x1="502.8" y1="84.25" x2="505.6" y2="84.25" stroke="#a1a36b" stroke-width="1.2"/>
<text x="502" y="87.95" font-family='"Liberation Serif", serif' font-size="9.2" font-weight="bold" fill="#336d63" stroke="#336d63" stroke-width="0.32" text-anchor="end">32</text>
<line x1="502.8" y1="72.2" x2="505.6" y2="72.2" stroke="#a1a36b" stroke-width="1.2"/>
<text x="502" y="75.9" font-family='"Liberation Serif", serif' font-size="9.2" font-weight="bold" fill="#336d63" stroke="#336d63" stroke-width="0.32" text-anchor="end">64</text>
<line x1="502.8" y1="60.15" x2="505.6" y2="60.15" stroke="#a1a36b" stroke-width="1.2"/>
<text x="502" y="63.85" font-family='"Liberation Serif", serif' font-size="9.2" font-weight="bold" fill="#336d63" stroke="#336d63" stroke-width="0.32" text-anchor="end">128</text>
<line x1="502.8" y1="48.1" x2="505.6" y2="48.1" stroke="#a1a36b" stroke-width="1.2"/>
<text x="502" y="51.8" font-family='"Liberation Serif", serif' font-size="9.2" font-weight="bold" fill="#336d63" stroke="#336d63" stroke-width="0.32" text-anchor="end">256</text>
<line x1="502.8" y1="36.05" x2="505.6" y2="36.05" stroke="#a1a36b" stroke-width="1.2"/>
<text x="502" y="39.75" font-family='"Liberation Serif", serif' font-size="9.2" font-weight="bold" fill="#336d63" stroke="#336d63" stroke-width="0.32" text-anchor="end">512</text>
<line x1="513.2" y1="156.55" x2="513.2" y2="159.35" stroke="#a1a36b" stroke-width="1.2"/>
<text x="513.2" y="168.8" font-family='"Liberation Serif", serif' font-size="9" font-weight="bold" fill="#336d63" stroke="#336d63" stroke-width="0.32" text-anchor="middle">0</text>
<line x1="527.94" y1="156.55" x2="527.94" y2="159.35" stroke="#a1a36b" stroke-width="1.2"/>
<text x="527.94" y="168.8" font-family='"Liberation Serif", serif' font-size="9" font-weight="bold" fill="#336d63" stroke="#336d63" stroke-width="0.32" text-anchor="middle">2</text>
<line x1="542.68" y1="156.55" x2="542.68" y2="159.35" stroke="#a1a36b" stroke-width="1.2"/>
<text x="542.68" y="168.8" font-family='"Liberation Serif", serif' font-size="9" font-weight="bold" fill="#336d63" stroke="#336d63" stroke-width="0.32" text-anchor="middle">4</text>
<line x1="557.42" y1="156.55" x2="557.42" y2="159.35" stroke="#a1a36b" stroke-width="1.2"/>
<text x="557.42" y="168.8" font-family='"Liberation Serif", serif' font-size="9" font-weight="bold" fill="#336d63" stroke="#336d63" stroke-width="0.32" text-anchor="middle">6</text>
<line x1="572.16" y1="156.55" x2="572.16" y2="159.35" stroke="#a1a36b" stroke-width="1.2"/>
<text x="572.16" y="168.8" font-family='"Liberation Serif", serif' font-size="9" font-weight="bold" fill="#336d63" stroke="#336d63" stroke-width="0.32" text-anchor="middle">8</text>
<line x1="586.9" y1="156.55" x2="586.9" y2="159.35" stroke="#a1a36b" stroke-width="1.2"/>
<text x="586.9" y="168.8" font-family='"Liberation Serif", serif' font-size="9" font-weight="bold" fill="#336d63" stroke="#336d63" stroke-width="0.32" text-anchor="middle">10</text>
<line x1="601.64" y1="156.55" x2="601.64" y2="159.35" stroke="#a1a36b" stroke-width="1.2"/>
<text x="601.64" y="168.8" font-family='"Liberation Serif", serif' font-size="9" font-weight="bold" fill="#336d63" stroke="#336d63" stroke-width="0.32" text-anchor="middle">12</text>
<line x1="616.38" y1="156.55" x2="616.38" y2="159.35" stroke="#a1a36b" stroke-width="1.2"/>
<text x="616.38" y="168.8" font-family='"Liberation Serif", serif' font-size="9" font-weight="bold" fill="#336d63" stroke="#336d63" stroke-width="0.32" text-anchor="middle">14</text>
<line x1="631.12" y1="156.55" x2="631.12" y2="159.35" stroke="#a1a36b" stroke-width="1.2"/>
<text x="631.12" y="168.8" font-family='"Liberation Serif", serif' font-size="9" font-weight="bold" fill="#336d63" stroke="#336d63" stroke-width="0.32" text-anchor="middle">16</text>
<line x1="645.86" y1="156.55" x2="645.86" y2="159.35" stroke="#a1a36b" stroke-width="1.2"/>
<text x="645.86" y="168.8" font-family='"Liberation Serif", serif' font-size="9" font-weight="bold" fill="#336d63" stroke="#336d63" stroke-width="0.32" text-anchor="middle">18</text>
<line x1="660.6" y1="156.55" x2="660.6" y2="159.35" stroke="#a1a36b" stroke-width="1.2"/>
<text x="660.6" y="168.8" font-family='"Liberation Serif", serif' font-size="9" font-weight="bold" fill="#336d63" stroke="#336d63" stroke-width="0.32" text-anchor="middle">20</text>
<text x="480.5" y="93.9" font-family='"Liberation Serif", serif' font-size="11.85" font-weight="bold" fill="#336d63" stroke="#336d63" stroke-width="0.41" text-anchor="middle" transform="rotate(-90 480.5 93.9)">Fold change in MIC (µg/mL)</text>
<text x="594.8" y="182.8" font-family='"Liberation Serif", serif' font-size="10.4" font-weight="bold" fill="#336d63" stroke="#336d63" stroke-width="0.36" text-anchor="middle">Time (Days)</text>
<text x="595.5" y="29.7" font-family='"Liberation Serif", serif' font-size="13" font-weight="bold" font-style="italic" fill="#336d63" stroke="#336d63" stroke-width="0.2" text-anchor="middle">B. subtilis MTCC 121</text>
<text x="458.5" y="9.2" font-family='"Liberation Sans", sans-serif' font-size="10.2" font-weight="bold" fill="#000" stroke="#000" stroke-width="0.36" text-anchor="start">C.</text>
<circle cx="513.2" cy="144.5" r="1.65" fill="#aaa671"/>
<circle cx="520.57" cy="144.5" r="1.65" fill="#aaa671"/>
<circle cx="527.94" cy="132.45" r="1.65" fill="#aaa671"/>
<circle cx="535.31" cy="132.45" r="1.65" fill="#aaa671"/>
<circle cx="542.68" cy="132.45" r="1.65" fill="#aaa671"/>
<circle cx="544.89" cy="132.45" r="1.65" fill="#aaa671"/>
<circle cx="550.05" cy="120.4" r="1.65" fill="#aaa671"/>
<circle cx="557.42" cy="120.4" r="1.65" fill="#aaa671"/>
<circle cx="559.63" cy="120.4" r="1.65" fill="#aaa671"/>
<circle cx="564.79" cy="120.4" r="1.65" fill="#aaa671"/>
<circle cx="564.79" cy="108.35" r="1.65" fill="#aaa671"/>
<circle cx="572.16" cy="108.35" r="1.65" fill="#aaa671"/>
<circle cx="574.37" cy="108.35" r="1.65" fill="#aaa671"/>
<circle cx="579.53" cy="108.35" r="1.65" fill="#aaa671"/>
<circle cx="581.74" cy="108.35" r="1.65" fill="#aaa671"/>
<circle cx="586.9" cy="108.35" r="1.65" fill="#aaa671"/>
<circle cx="586.9" cy="120.4" r="1.65" fill="#aaa671"/>
<circle cx="594.27" cy="108.35" r="1.65" fill="#aaa671"/>
<circle cx="596.48" cy="108.35" r="1.65" fill="#aaa671"/>
<circle cx="601.64" cy="108.35" r="1.65" fill="#aaa671"/>
<circle cx="609.01" cy="96.3" r="1.65" fill="#aaa671"/>
<circle cx="609.01" cy="108.35" r="1.65" fill="#aaa671"/>
<circle cx="616.38" cy="96.3" r="1.65" fill="#aaa671"/>
<circle cx="618.59" cy="96.3" r="1.65" fill="#aaa671"/>
<circle cx="623.75" cy="96.3" r="1.65" fill="#aaa671"/>
<circle cx="631.12" cy="96.3" r="1.65" fill="#aaa671"/>
<circle cx="633.33" cy="96.3" r="1.65" fill="#aaa671"/>
<circle cx="638.49" cy="84.25" r="1.65" fill="#aaa671"/>
<circle cx="638.49" cy="96.3" r="1.65" fill="#aaa671"/>
<circle cx="645.86" cy="84.25" r="1.65" fill="#aaa671"/>
<circle cx="648.07" cy="84.25" r="1.65" fill="#aaa671"/>
<circle cx="653.23" cy="72.2" r="1.65" fill="#aaa671"/>
<circle cx="653.23" cy="84.25" r="1.65" fill="#aaa671"/>
<circle cx="660.6" cy="72.2" r="1.65" fill="#aaa671"/>
<circle cx="662.81" cy="72.2" r="1.65" fill="#aaa671"/>
<circle cx="667.97" cy="72.2" r="1.65" fill="#aaa671"/>
<circle cx="670.92" cy="72.2" r="1.65" fill="#aaa671"/>
<polyline points="513.2,144.5 520.57,144.5 527.94,137.45 535.31,134.28 542.68,132.45 550.05,126.6 557.42,120.4 564.79,114.55 572.16,108.35 579.53,108.35 586.9,114.55 594.27,108.35 601.64,108.35 609.01,102.81 616.38,96.3 623.75,96.3 631.12,96.3 638.49,90.3 645.86,84.25 653.23,78.32 660.6,72.2 667.97,72.2" fill="none" stroke="#aaa671" stroke-width="1.2" stroke-linejoin="round" stroke-linecap="round"/>
<rect x="511.45" y="142.75" width="3.5" height="3.5" fill="#1f6a5c"/>
<rect x="514.4" y="142.75" width="3.5" height="3.5" fill="#1f6a5c"/>
<rect x="518.82" y="118.65" width="3.5" height="3.5" fill="#1f6a5c"/>
<rect x="518.82" y="142.75" width="3.5" height="3.5" fill="#1f6a5c"/>
<rect x="526.19" y="142.75" width="3.5" height="3.5" fill="#1f6a5c"/>
<rect x="527.66" y="142.75" width="3.5" height="3.5" fill="#1f6a5c"/>
<rect x="533.56" y="130.7" width="3.5" height="3.5" fill="#1f6a5c"/>
<rect x="533.56" y="154.8" width="3.5" height="3.5" fill="#1f6a5c"/>
<rect x="540.93" y="130.7" width="3.5" height="3.5" fill="#1f6a5c"/>
<rect x="540.93" y="142.75" width="3.5" height="3.5" fill="#1f6a5c"/>
<rect x="548.3" y="130.7" width="3.5" height="3.5" fill="#1f6a5c"/>
<rect x="548.3" y="142.75" width="3.5" height="3.5" fill="#1f6a5c"/>
<rect x="555.67" y="142.75" width="3.5" height="3.5" fill="#1f6a5c"/>
<rect x="557.88" y="142.75" width="3.5" height="3.5" fill="#1f6a5c"/>
<rect x="563.04" y="130.7" width="3.5" height="3.5" fill="#1f6a5c"/>
<rect x="563.04" y="142.75" width="3.5" height="3.5" fill="#1f6a5c"/>
<rect x="570.41" y="142.75" width="3.5" height="3.5" fill="#1f6a5c"/>
<rect x="571.88" y="142.75" width="3.5" height="3.5" fill="#1f6a5c"/>
<rect x="577.78" y="130.7" width="3.5" height="3.5" fill="#1f6a5c"/>
<rect x="585.15" y="130.7" width="3.5" height="3.5" fill="#1f6a5c"/>
<rect x="585.15" y="142.75" width="3.5" height="3.5" fill="#1f6a5c"/>
<rect x="592.52" y="130.7" width="3.5" height="3.5" fill="#1f6a5c"/>
<rect x="594.73" y="130.7" width="3.5" height="3.5" fill="#1f6a5c"/>
<rect x="599.89" y="130.7" width="3.5" height="3.5" fill="#1f6a5c"/>
<rect x="602.1" y="130.7" width="3.5" height="3.5" fill="#1f6a5c"/>
<rect x="607.26" y="142.75" width="3.5" height="3.5" fill="#1f6a5c"/>
<rect x="609.47" y="142.75" width="3.5" height="3.5" fill="#1f6a5c"/>
<rect x="614.63" y="130.7" width="3.5" height="3.5" fill="#1f6a5c"/>
<rect x="614.63" y="142.75" width="3.5" height="3.5" fill="#1f6a5c"/>
<rect x="622" y="130.7" width="3.5" height="3.5" fill="#1f6a5c"/>
<rect x="624.21" y="130.7" width="3.5" height="3.5" fill="#1f6a5c"/>
<rect x="629.37" y="130.7" width="3.5" height="3.5" fill="#1f6a5c"/>
<rect x="631.58" y="130.7" width="3.5" height="3.5" fill="#1f6a5c"/>
<rect x="636.74" y="130.7" width="3.5" height="3.5" fill="#1f6a5c"/>
<rect x="638.95" y="130.7" width="3.5" height="3.5" fill="#1f6a5c"/>
<rect x="644.11" y="130.7" width="3.5" height="3.5" fill="#1f6a5c"/>
<rect x="651.48" y="142.75" width="3.5" height="3.5" fill="#1f6a5c"/>
<rect x="652.95" y="142.75" width="3.5" height="3.5" fill="#1f6a5c"/>
<rect x="658.85" y="130.7" width="3.5" height="3.5" fill="#1f6a5c"/>
<rect x="658.85" y="142.75" width="3.5" height="3.5" fill="#1f6a5c"/>
<rect x="666.22" y="142.75" width="3.5" height="3.5" fill="#1f6a5c"/>
<rect x="668.43" y="142.75" width="3.5" height="3.5" fill="#1f6a5c"/>
<polyline points="513.2,144.5 520.57,128.23 527.94,144.5 535.31,139.94 542.68,137.27 550.05,137.27 557.42,144.5 564.79,137.27 572.16,144.5 579.53,132.45 586.9,137.27 594.27,132.45 601.64,132.45 609.01,144.5 616.38,137.27 623.75,132.45 631.12,132.45 638.49,132.45 645.86,132.45 653.23,144.5 660.6,137.27 667.97,144.5" fill="none" stroke="#1f6a5c" stroke-width="1.3" stroke-linejoin="round" stroke-linecap="round"/>
<line x1="511" y1="70" x2="519.8" y2="70" stroke="#aaa671" stroke-width="1.5"/>
<circle cx="515.4" cy="70" r="1.5" fill="#aaa671"/>
<text x="524.5" y="73.77" font-family='"Liberation Serif", serif' font-size="9.6" font-weight="bold" fill="#336d63" stroke="#336d63" stroke-width="0.34" text-anchor="start">Ciprofloxacin</text>
<line x1="511" y1="83.2" x2="519.8" y2="83.2" stroke="#1f6a5c" stroke-width="1.6"/>
<rect x="513.8" y="81.6" width="3.2" height="3.2" fill="#1f6a5c"/>
<text x="524.5" y="86.97" font-family='"Liberation Serif", serif' font-size="9.6" font-weight="bold" fill="#336d63" stroke="#336d63" stroke-width="0.34" text-anchor="start">SMJ-2</text>
<line x1="32" y1="202.4" x2="32" y2="313.5" stroke="#000" stroke-width="1.6"/>
<line x1="31.2" y1="312.7" x2="190" y2="312.7" stroke="#000" stroke-width="1.6"/>
<line x1="28.2" y1="302.8" x2="32" y2="302.8" stroke="#000" stroke-width="1.5"/>
<text x="27.6" y="306" font-family='"Liberation Sans", sans-serif' font-size="9" font-weight="bold" fill="#000" stroke="#000" stroke-width="0.32" text-anchor="end">0</text>
<line x1="28.2" y1="282.86" x2="32" y2="282.86" stroke="#000" stroke-width="1.5"/>
<text x="27.6" y="286.06" font-family='"Liberation Sans", sans-serif' font-size="9" font-weight="bold" fill="#000" stroke="#000" stroke-width="0.32" text-anchor="end">2</text>
<line x1="28.2" y1="262.92" x2="32" y2="262.92" stroke="#000" stroke-width="1.5"/>
<text x="27.6" y="266.12" font-family='"Liberation Sans", sans-serif' font-size="9" font-weight="bold" fill="#000" stroke="#000" stroke-width="0.32" text-anchor="end">4</text>
<line x1="28.2" y1="242.98" x2="32" y2="242.98" stroke="#000" stroke-width="1.5"/>
<text x="27.6" y="246.18" font-family='"Liberation Sans", sans-serif' font-size="9" font-weight="bold" fill="#000" stroke="#000" stroke-width="0.32" text-anchor="end">6</text>
<line x1="28.2" y1="223.04" x2="32" y2="223.04" stroke="#000" stroke-width="1.5"/>
<text x="27.6" y="226.24" font-family='"Liberation Sans", sans-serif' font-size="9" font-weight="bold" fill="#000" stroke="#000" stroke-width="0.32" text-anchor="end">8</text>
<line x1="28.2" y1="203.1" x2="32" y2="203.1" stroke="#000" stroke-width="1.5"/>
<text x="27.6" y="206.3" font-family='"Liberation Sans", sans-serif' font-size="9" font-weight="bold" fill="#000" stroke="#000" stroke-width="0.32" text-anchor="end">10</text>
<line x1="32" y1="312.7" x2="32" y2="316.6" stroke="#000" stroke-width="1.5"/>
<text x="32" y="326.6" font-family='"Liberation Sans", sans-serif' font-size="9" font-weight="bold" fill="#000" stroke="#000" stroke-width="0.32" text-anchor="middle">0</text>
<line x1="58.2" y1="312.7" x2="58.2" y2="316.6" stroke="#000" stroke-width="1.5"/>
<text x="58.2" y="326.6" font-family='"Liberation Sans", sans-serif' font-size="9" font-weight="bold" fill="#000" stroke="#000" stroke-width="0.32" text-anchor="middle">4</text>
<line x1="84.4" y1="312.7" x2="84.4" y2="316.6" stroke="#000" stroke-width="1.5"/>
<text x="84.4" y="326.6" font-family='"Liberation Sans", sans-serif' font-size="9" font-weight="bold" fill="#000" stroke="#000" stroke-width="0.32" text-anchor="middle">8</text>
<line x1="110.6" y1="312.7" x2="110.6" y2="316.6" stroke="#000" stroke-width="1.5"/>
<text x="110.6" y="326.6" font-family='"Liberation Sans", sans-serif' font-size="9" font-weight="bold" fill="#000" stroke="#000" stroke-width="0.32" text-anchor="middle">12</text>
<line x1="136.8" y1="312.7" x2="136.8" y2="316.6" stroke="#000" stroke-width="1.5"/>
<text x="136.8" y="326.6" font-family='"Liberation Sans", sans-serif' font-size="9" font-weight="bold" fill="#000" stroke="#000" stroke-width="0.32" text-anchor="middle">16</text>
<line x1="163" y1="312.7" x2="163" y2="316.6" stroke="#000" stroke-width="1.5"/>
<text x="163" y="326.6" font-family='"Liberation Sans", sans-serif' font-size="9" font-weight="bold" fill="#000" stroke="#000" stroke-width="0.32" text-anchor="middle">20</text>
<line x1="189.2" y1="312.7" x2="189.2" y2="316.6" stroke="#000" stroke-width="1.5"/>
<text x="189.2" y="326.6" font-family='"Liberation Sans", sans-serif' font-size="9" font-weight="bold" fill="#000" stroke="#000" stroke-width="0.32" text-anchor="middle">24</text>
<text x="10.6" y="256" font-family='"Liberation Serif", serif' font-size="12.3" font-weight="bold" fill="#000" text-anchor="middle" transform="rotate(-90 10.6 256)">Log<tspan font-size="8.36" dy="2.71">10</tspan><tspan dy="-2.71"> CFU/mL</tspan></text>
<text x="110.8" y="342.8" font-family='"Liberation Serif", serif' font-size="11.3" font-weight="bold" fill="#000" stroke="#000" stroke-width="0.4" text-anchor="middle">Time (h)</text>
<line x1="33" y1="292.83" x2="190.2" y2="292.83" stroke="#8c8c8c" stroke-width="1.1" stroke-dasharray="2 2.3"/>
<text x="35" y="300.9" font-family='"Liberation Serif", serif' font-size="7.6" font-weight="bold" fill="#222" stroke="#222" stroke-width="0.27" text-anchor="start">L.O.D.</text>
<polyline points="32,250.96 45.1,249.66 58.2,248.96 71.3,249.46 84.4,248.46 110.6,249.46 189.2,257.94" fill="none" stroke="#f28a2e" stroke-width="1.4" stroke-linejoin="round" stroke-linecap="round"/>
<polygon points="32,245.05 33.92,246.97 32,248.89 30.08,246.97" fill="#f28a2e"/>
<polygon points="32,249.04 33.92,250.96 32,252.88 30.08,250.96" fill="#f28a2e"/>
<polygon points="45.1,248.04 47.02,249.96 45.1,251.88 43.18,249.96" fill="#f28a2e"/>
<polygon points="47.06,249.04 48.98,250.96 47.06,252.88 45.14,250.96" fill="#f28a2e"/>
<polygon points="56.23,246.05 58.16,247.97 56.23,249.88 54.31,247.97" fill="#f28a2e"/>
<polygon points="58.2,248.04 60.12,249.96 58.2,251.88 56.28,249.96" fill="#f28a2e"/>
<polygon points="60.16,247.54 62.09,249.46 60.16,251.38 58.24,249.46" fill="#f28a2e"/>
<polygon points="68.68,246.54 70.6,248.46 68.68,250.38 66.76,248.46" fill="#f28a2e"/>
<polygon points="71.3,248.04 73.22,249.96 71.3,251.88 69.38,249.96" fill="#f28a2e"/>
<polygon points="73.27,247.54 75.19,249.46 73.27,251.38 71.34,249.46" fill="#f28a2e"/>
<polygon points="82.44,245.55 84.36,247.47 82.44,249.39 80.52,247.47" fill="#f28a2e"/>
<polygon points="84.4,247.54 86.32,249.46 84.4,251.38 82.48,249.46" fill="#f28a2e"/>
<polygon points="86.37,247.04 88.29,248.96 86.37,250.88 84.45,248.96" fill="#f28a2e"/>
<polygon points="107.33,247.04 109.25,248.96 107.33,250.88 105.41,248.96" fill="#f28a2e"/>
<polygon points="110.6,248.04 112.52,249.96 110.6,251.88 108.68,249.96" fill="#f28a2e"/>
<polygon points="114.53,247.54 116.45,249.46 114.53,251.38 112.61,249.46" fill="#f28a2e"/>
<polygon points="185.92,255.52 187.84,257.44 185.92,259.36 184,257.44" fill="#f28a2e"/>
<polygon points="189.2,256.51 191.12,258.43 189.2,260.35 187.28,258.43" fill="#f28a2e"/>
<polygon points="189.2,257.01 191.12,258.93 189.2,260.85 187.28,258.93" fill="#f28a2e"/>
<polyline points="32,252.95 45.1,262.62 58.2,262.62 71.3,269.2 84.4,270.2 110.6,266.01 189.2,262.92" fill="none" stroke="#44e43a" stroke-width="1.4" stroke-linejoin="round" stroke-linecap="round"/>
<polygon points="45.1,252.69 46.7,255.73 43.5,255.73" fill="#44e43a"/>
<polygon points="45.1,272.13 46.7,275.17 43.5,275.17" fill="#44e43a"/>
<polygon points="58.2,257.17 59.8,260.21 56.6,260.21" fill="#44e43a"/>
<polygon points="58.2,261.66 59.8,264.7 56.6,264.7" fill="#44e43a"/>
<polygon points="67.37,262.66 68.97,265.7 65.77,265.7" fill="#44e43a"/>
<polygon points="71.3,263.15 72.9,266.19 69.7,266.19" fill="#44e43a"/>
<polygon points="71.3,274.12 72.9,277.16 69.7,277.16" fill="#44e43a"/>
<polygon points="81.12,262.66 82.72,265.7 79.53,265.7" fill="#44e43a"/>
<polygon points="84.4,264.15 86,267.19 82.8,267.19" fill="#44e43a"/>
<polygon points="84.4,275.12 86,278.16 82.8,278.16" fill="#44e43a"/>
<polygon points="110.6,256.18 112.2,259.21 109,259.21" fill="#44e43a"/>
<polygon points="110.6,262.66 112.2,265.7 109,265.7" fill="#44e43a"/>
<polygon points="110.6,269.14 112.2,272.18 109,272.18" fill="#44e43a"/>
<polygon points="189.2,256.18 190.8,259.21 187.6,259.21" fill="#44e43a"/>
<polygon points="189.2,257.67 190.8,260.71 187.6,260.71" fill="#44e43a"/>
<polygon points="189.2,269.14 190.8,272.18 187.6,272.18" fill="#44e43a"/>
<polyline points="32,252.95 45.1,257.24 58.2,278.67 71.3,286.45 84.4,282.26 110.6,291.43 189.2,292.83" fill="none" stroke="#c23cf2" stroke-width="1.4" stroke-linejoin="round" stroke-linecap="round"/>
<polygon points="40.52,255.71 42.12,252.67 38.91,252.67" fill="#c23cf2"/>
<polygon points="45.1,259.2 46.7,256.16 43.5,256.16" fill="#c23cf2"/>
<polygon points="45.1,261.69 46.7,258.65 43.5,258.65" fill="#c23cf2"/>
<polygon points="58.2,278.64 59.8,275.6 56.6,275.6" fill="#c23cf2"/>
<polygon points="71.3,274.65 72.9,271.61 69.7,271.61" fill="#c23cf2"/>
<polygon points="81.12,275.85 82.72,272.81 79.53,272.81" fill="#c23cf2"/>
<polygon points="84.4,284.62 86,281.58 82.8,281.58" fill="#c23cf2"/>
<polygon points="110.6,288.81 112.2,285.77 109,285.77" fill="#c23cf2"/>
<polygon points="110.6,294.59 112.2,291.55 109,291.55" fill="#c23cf2"/>
<polygon points="189.2,294.59 190.8,291.55 187.6,291.55" fill="#c23cf2"/>
<polyline points="32,252.95 45.1,270.4 58.2,281.56 71.3,282.26 84.4,282.86 110.6,283.36 189.2,284.85" fill="none" stroke="#ff2424" stroke-width="1.4" stroke-linejoin="round" stroke-linecap="round"/>
<rect x="30.4" y="255.34" width="3.2" height="3.2" fill="#ff2424"/>
<rect x="30.4" y="253.34" width="3.2" height="3.2" fill="#ff2424"/>
<rect x="43.5" y="265.11" width="3.2" height="3.2" fill="#ff2424"/>
<rect x="45.46" y="269.3" width="3.2" height="3.2" fill="#ff2424"/>
<rect x="43.5" y="271.79" width="3.2" height="3.2" fill="#ff2424"/>
<rect x="56.6" y="270.49" width="3.2" height="3.2" fill="#ff2424"/>
<rect x="58.56" y="281.96" width="3.2" height="3.2" fill="#ff2424"/>
<rect x="56.6" y="285.75" width="3.2" height="3.2" fill="#ff2424"/>
<rect x="65.77" y="275.58" width="3.2" height="3.2" fill="#ff2424"/>
<rect x="69.7" y="278.47" width="3.2" height="3.2" fill="#ff2424"/>
<rect x="69.7" y="288.04" width="3.2" height="3.2" fill="#ff2424"/>
<rect x="82.8" y="274.58" width="3.2" height="3.2" fill="#ff2424"/>
<rect x="82.8" y="280.66" width="3.2" height="3.2" fill="#ff2424"/>
<rect x="105.73" y="275.58" width="3.2" height="3.2" fill="#ff2424"/>
<rect x="109" y="277.77" width="3.2" height="3.2" fill="#ff2424"/>
<rect x="109" y="291.23" width="3.2" height="3.2" fill="#ff2424"/>
<rect x="187.6" y="279.27" width="3.2" height="3.2" fill="#ff2424"/>
<rect x="184.32" y="279.27" width="3.2" height="3.2" fill="#ff2424"/>
<rect x="187.6" y="291.23" width="3.2" height="3.2" fill="#ff2424"/>
<polyline points="32,252.95 45.1,292.83 58.2,292.83 71.3,292.83 84.4,292.83 110.6,292.83 189.2,292.83" fill="none" stroke="#c0247c" stroke-width="1.4" stroke-linejoin="round" stroke-linecap="round"/>
<circle cx="43.13" cy="292.83" r="1.6" fill="#5a1a5e"/>
<circle cx="45.1" cy="292.83" r="1.6" fill="#5a1a5e"/>
<circle cx="47.06" cy="292.83" r="1.6" fill="#5a1a5e"/>
<circle cx="56.23" cy="292.83" r="1.6" fill="#5a1a5e"/>
<circle cx="58.2" cy="292.83" r="1.6" fill="#5a1a5e"/>
<circle cx="60.16" cy="292.83" r="1.6" fill="#5a1a5e"/>
<circle cx="69.34" cy="292.83" r="1.6" fill="#5a1a5e"/>
<circle cx="71.3" cy="292.83" r="1.6" fill="#5a1a5e"/>
<circle cx="73.27" cy="292.83" r="1.6" fill="#5a1a5e"/>
<circle cx="82.44" cy="292.83" r="1.6" fill="#5a1a5e"/>
<circle cx="84.4" cy="292.83" r="1.6" fill="#5a1a5e"/>
<circle cx="86.37" cy="292.83" r="1.6" fill="#5a1a5e"/>
<circle cx="108.63" cy="292.83" r="1.6" fill="#5a1a5e"/>
<circle cx="110.6" cy="292.83" r="1.6" fill="#5a1a5e"/>
<circle cx="112.56" cy="292.83" r="1.6" fill="#5a1a5e"/>
<circle cx="189.2" cy="292.83" r="1.6" fill="#5a1a5e"/>
<polyline points="32,251.45 45.1,245.27 58.2,234.31 71.3,226.33 84.4,220.05 110.6,220.95 189.2,218.06" fill="none" stroke="#1414ff" stroke-width="1.4" stroke-linejoin="round" stroke-linecap="round"/>
<circle cx="32" cy="252.95" r="1.6" fill="#1414ff"/>
<circle cx="32" cy="255.94" r="1.6" fill="#1414ff"/>
<circle cx="32" cy="250.96" r="1.6" fill="#1414ff"/>
<circle cx="44.77" cy="239.09" r="1.6" fill="#1414ff"/>
<circle cx="47.06" cy="246.97" r="1.6" fill="#1414ff"/>
<circle cx="45.1" cy="250.46" r="1.6" fill="#1414ff"/>
<circle cx="57.87" cy="231.02" r="1.6" fill="#1414ff"/>
<circle cx="59.84" cy="235" r="1.6" fill="#1414ff"/>
<circle cx="58.2" cy="238.69" r="1.6" fill="#1414ff"/>
<circle cx="66.72" cy="222.34" r="1.6" fill="#1414ff"/>
<circle cx="70.97" cy="226.03" r="1.6" fill="#1414ff"/>
<circle cx="71.3" cy="233.01" r="1.6" fill="#1414ff"/>
<circle cx="80.14" cy="218.06" r="1.6" fill="#1414ff"/>
<circle cx="84.4" cy="218.06" r="1.6" fill="#1414ff"/>
<circle cx="84.4" cy="225.03" r="1.6" fill="#1414ff"/>
<circle cx="110.6" cy="211.18" r="1.6" fill="#1414ff"/>
<circle cx="110.6" cy="220.05" r="1.6" fill="#1414ff"/>
<circle cx="110.6" cy="231.41" r="1.6" fill="#1414ff"/>
<circle cx="189.2" cy="214.47" r="1.6" fill="#1414ff"/>
<circle cx="189.2" cy="221.35" r="1.6" fill="#1414ff"/>
<text x="3.6" y="198.4" font-family='"Liberation Sans", sans-serif' font-size="10.2" font-weight="bold" fill="#000" stroke="#000" stroke-width="0.36" text-anchor="start">D.</text>
<line x1="236" y1="202.9" x2="236" y2="313.5" stroke="#000" stroke-width="1.6"/>
<line x1="235.2" y1="312.7" x2="394" y2="312.7" stroke="#000" stroke-width="1.6"/>
<line x1="232.2" y1="312.7" x2="236" y2="312.7" stroke="#000" stroke-width="1.5"/>
<text x="231.6" y="315.9" font-family='"Liberation Sans", sans-serif' font-size="9" font-weight="bold" fill="#000" stroke="#000" stroke-width="0.32" text-anchor="end">5</text>
<line x1="232.2" y1="290.88" x2="236" y2="290.88" stroke="#000" stroke-width="1.5"/>
<text x="231.6" y="294.08" font-family='"Liberation Sans", sans-serif' font-size="9" font-weight="bold" fill="#000" stroke="#000" stroke-width="0.32" text-anchor="end">6</text>
<line x1="232.2" y1="269.06" x2="236" y2="269.06" stroke="#000" stroke-width="1.5"/>
<text x="231.6" y="272.26" font-family='"Liberation Sans", sans-serif' font-size="9" font-weight="bold" fill="#000" stroke="#000" stroke-width="0.32" text-anchor="end">7</text>
<line x1="232.2" y1="247.24" x2="236" y2="247.24" stroke="#000" stroke-width="1.5"/>
<text x="231.6" y="250.44" font-family='"Liberation Sans", sans-serif' font-size="9" font-weight="bold" fill="#000" stroke="#000" stroke-width="0.32" text-anchor="end">8</text>
<line x1="232.2" y1="225.42" x2="236" y2="225.42" stroke="#000" stroke-width="1.5"/>
<text x="231.6" y="228.62" font-family='"Liberation Sans", sans-serif' font-size="9" font-weight="bold" fill="#000" stroke="#000" stroke-width="0.32" text-anchor="end">9</text>
<line x1="232.2" y1="203.6" x2="236" y2="203.6" stroke="#000" stroke-width="1.5"/>
<text x="231.6" y="206.8" font-family='"Liberation Sans", sans-serif' font-size="9" font-weight="bold" fill="#000" stroke="#000" stroke-width="0.32" text-anchor="end">10</text>
<line x1="236" y1="312.7" x2="236" y2="316.6" stroke="#000" stroke-width="1.5"/>
<text x="236" y="326.6" font-family='"Liberation Sans", sans-serif' font-size="9" font-weight="bold" fill="#000" stroke="#000" stroke-width="0.32" text-anchor="middle">0</text>
<line x1="262.2" y1="312.7" x2="262.2" y2="316.6" stroke="#000" stroke-width="1.5"/>
<text x="262.2" y="326.6" font-family='"Liberation Sans", sans-serif' font-size="9" font-weight="bold" fill="#000" stroke="#000" stroke-width="0.32" text-anchor="middle">4</text>
<line x1="288.4" y1="312.7" x2="288.4" y2="316.6" stroke="#000" stroke-width="1.5"/>
<text x="288.4" y="326.6" font-family='"Liberation Sans", sans-serif' font-size="9" font-weight="bold" fill="#000" stroke="#000" stroke-width="0.32" text-anchor="middle">8</text>
<line x1="314.6" y1="312.7" x2="314.6" y2="316.6" stroke="#000" stroke-width="1.5"/>
<text x="314.6" y="326.6" font-family='"Liberation Sans", sans-serif' font-size="9" font-weight="bold" fill="#000" stroke="#000" stroke-width="0.32" text-anchor="middle">12</text>
<line x1="340.8" y1="312.7" x2="340.8" y2="316.6" stroke="#000" stroke-width="1.5"/>
<text x="340.8" y="326.6" font-family='"Liberation Sans", sans-serif' font-size="9" font-weight="bold" fill="#000" stroke="#000" stroke-width="0.32" text-anchor="middle">16</text>
<line x1="367" y1="312.7" x2="367" y2="316.6" stroke="#000" stroke-width="1.5"/>
<text x="367" y="326.6" font-family='"Liberation Sans", sans-serif' font-size="9" font-weight="bold" fill="#000" stroke="#000" stroke-width="0.32" text-anchor="middle">20</text>
<line x1="393.2" y1="312.7" x2="393.2" y2="316.6" stroke="#000" stroke-width="1.5"/>
<text x="393.2" y="326.6" font-family='"Liberation Sans", sans-serif' font-size="9" font-weight="bold" fill="#000" stroke="#000" stroke-width="0.32" text-anchor="middle">24</text>
<text x="215.4" y="256.5" font-family='"Liberation Serif", serif' font-size="12.3" font-weight="bold" fill="#000" text-anchor="middle" transform="rotate(-90 215.4 256.5)">Log<tspan font-size="8.36" dy="2.71">10</tspan><tspan dy="-2.71"> CFU/mL</tspan></text>
<text x="314.8" y="342.8" font-family='"Liberation Serif", serif' font-size="11.3" font-weight="bold" fill="#000" stroke="#000" stroke-width="0.4" text-anchor="middle">Time (h)</text>
<polyline points="236,240.69 249.1,256.84 262.2,256.84 275.3,254.88 288.4,257.71 314.6,260.99 393.2,261.42" fill="none" stroke="#f28a2e" stroke-width="1.4" stroke-linejoin="round" stroke-linecap="round"/>
<polygon points="236,243.14 237.92,245.06 236,246.98 234.08,245.06" fill="#f28a2e"/>
<polygon points="249.1,251.87 251.02,253.79 249.1,255.71 247.18,253.79" fill="#f28a2e"/>
<polygon points="249.1,257.32 251.02,259.24 249.1,261.16 247.18,259.24" fill="#f28a2e"/>
<polygon points="262.2,249.68 264.12,251.6 262.2,253.52 260.28,251.6" fill="#f28a2e"/>
<polygon points="264.17,256.23 266.09,258.15 264.17,260.07 262.25,258.15" fill="#f28a2e"/>
<polygon points="273.33,252.96 275.25,254.88 273.33,256.8 271.41,254.88" fill="#f28a2e"/>
<polygon points="275.3,254.05 277.22,255.97 275.3,257.89 273.38,255.97" fill="#f28a2e"/>
<polygon points="286.44,255.14 288.36,257.06 286.44,258.98 284.51,257.06" fill="#f28a2e"/>
<polygon points="288.4,257.32 290.32,259.24 288.4,261.16 286.48,259.24" fill="#f28a2e"/>
<polygon points="314.6,250.78 316.52,252.69 314.6,254.61 312.68,252.69" fill="#f28a2e"/>
<polygon points="314.6,258.41 316.52,260.33 314.6,262.25 312.68,260.33" fill="#f28a2e"/>
<polygon points="314.6,268.23 316.52,270.15 314.6,272.07 312.68,270.15" fill="#f28a2e"/>
<polygon points="389.92,258.41 391.84,260.33 389.92,262.25 388,260.33" fill="#f28a2e"/>
<polygon points="393.2,260.59 395.12,262.51 393.2,264.43 391.28,262.51" fill="#f28a2e"/>
<polyline points="236,240.69 249.1,257.71 262.2,258.15 275.3,258.59 288.4,259.24 314.6,278.66 393.2,278.88" fill="none" stroke="#c23cf2" stroke-width="1.4" stroke-linejoin="round" stroke-linecap="round"/>
<polygon points="249.1,257.73 250.7,254.69 247.5,254.69" fill="#c23cf2"/>
<polygon points="262.2,257.73 263.8,254.69 260.6,254.69" fill="#c23cf2"/>
<polygon points="275.3,258.82 276.9,255.78 273.7,255.78" fill="#c23cf2"/>
<polygon points="288.4,262.09 290,259.05 286.8,259.05" fill="#c23cf2"/>
<polygon points="314.6,279.55 316.2,276.51 313,276.51" fill="#c23cf2"/>
<polygon points="393.2,278.46 394.8,275.42 391.6,275.42" fill="#c23cf2"/>
<polygon points="393.2,281.73 394.8,278.69 391.6,278.69" fill="#c23cf2"/>
<polyline points="236,240.69 249.1,257.06 262.2,257.06 275.3,257.71 288.4,263.82 314.6,265.79 393.2,266.88" fill="none" stroke="#c0247c" stroke-width="1.4" stroke-linejoin="round" stroke-linecap="round"/>
<circle cx="249.1" cy="251.6" r="1.6" fill="#5a1a5e"/>
<circle cx="249.1" cy="261.42" r="1.6" fill="#5a1a5e"/>
<circle cx="262.2" cy="255.97" r="1.6" fill="#5a1a5e"/>
<circle cx="262.2" cy="261.42" r="1.6" fill="#5a1a5e"/>
<circle cx="275.3" cy="259.24" r="1.6" fill="#5a1a5e"/>
<circle cx="277.26" cy="260.33" r="1.6" fill="#5a1a5e"/>
<circle cx="288.4" cy="262.51" r="1.6" fill="#5a1a5e"/>
<circle cx="290.37" cy="264.7" r="1.6" fill="#5a1a5e"/>
<circle cx="310.01" cy="263.61" r="1.6" fill="#5a1a5e"/>
<circle cx="314.6" cy="266.88" r="1.6" fill="#5a1a5e"/>
<circle cx="318.53" cy="265.79" r="1.6" fill="#5a1a5e"/>
<circle cx="393.2" cy="263.61" r="1.6" fill="#5a1a5e"/>
<circle cx="393.2" cy="270.15" r="1.6" fill="#5a1a5e"/>
<polyline points="236,240.69 249.1,264.04 262.2,262.95 275.3,263.39 288.4,272.11 314.6,279.1 393.2,279.53" fill="none" stroke="#44e43a" stroke-width="1.4" stroke-linejoin="round" stroke-linecap="round"/>
<polygon points="236,241.12 237.6,244.16 234.4,244.16" fill="#44e43a"/>
<polygon points="249.1,262.94 250.7,265.98 247.5,265.98" fill="#44e43a"/>
<polygon points="251.06,264.03 252.66,267.07 249.47,267.07" fill="#44e43a"/>
<polygon points="262.2,259.66 263.8,262.7 260.6,262.7" fill="#44e43a"/>
<polygon points="264.17,260.75 265.77,263.79 262.56,263.79" fill="#44e43a"/>
<polygon points="275.3,260.75 276.9,263.79 273.7,263.79" fill="#44e43a"/>
<polygon points="286.44,273.85 288.04,276.89 284.83,276.89" fill="#44e43a"/>
<polygon points="288.4,272.75 290,275.79 286.8,275.79" fill="#44e43a"/>
<polygon points="314.6,279.3 316.2,282.34 313,282.34" fill="#44e43a"/>
<polygon points="318.53,279.96 320.13,283 316.93,283" fill="#44e43a"/>
<polygon points="314.6,268.39 316.2,271.43 313,271.43" fill="#44e43a"/>
<polygon points="393.2,277.12 394.8,280.16 391.6,280.16" fill="#44e43a"/>
<polygon points="393.2,278.21 394.8,281.25 391.6,281.25" fill="#44e43a"/>
<polyline points="236,241.78 249.1,271.68 262.2,279.1 275.3,279.1 288.4,280.62 314.6,290.88 393.2,286.95" fill="none" stroke="#ff2424" stroke-width="1.4" stroke-linejoin="round" stroke-linecap="round"/>
<rect x="234.4" y="235.82" width="3.2" height="3.2" fill="#ff2424"/>
<rect x="247.5" y="272.91" width="3.2" height="3.2" fill="#ff2424"/>
<rect x="249.47" y="272.26" width="3.2" height="3.2" fill="#ff2424"/>
<rect x="260.6" y="276.19" width="3.2" height="3.2" fill="#ff2424"/>
<rect x="262.56" y="277.93" width="3.2" height="3.2" fill="#ff2424"/>
<rect x="272.39" y="276.62" width="3.2" height="3.2" fill="#ff2424"/>
<rect x="275.66" y="277.28" width="3.2" height="3.2" fill="#ff2424"/>
<rect x="286.8" y="276.19" width="3.2" height="3.2" fill="#ff2424"/>
<rect x="288.76" y="279.46" width="3.2" height="3.2" fill="#ff2424"/>
<rect x="313" y="283.82" width="3.2" height="3.2" fill="#ff2424"/>
<rect x="313" y="293.64" width="3.2" height="3.2" fill="#ff2424"/>
<rect x="391.6" y="282.73" width="3.2" height="3.2" fill="#ff2424"/>
<rect x="391.6" y="288.19" width="3.2" height="3.2" fill="#ff2424"/>
<polyline points="236,237.64 249.1,237.64 262.2,237.64 275.3,231.75 288.4,238.08 314.6,233.06 393.2,245.06" fill="none" stroke="#1414ff" stroke-width="1.4" stroke-linejoin="round" stroke-linecap="round"/>
<circle cx="236" cy="232.18" r="1.6" fill="#1414ff"/>
<circle cx="236" cy="240.26" r="1.6" fill="#1414ff"/>
<circle cx="237.97" cy="238.51" r="1.6" fill="#1414ff"/>
<circle cx="249.1" cy="236.77" r="1.6" fill="#1414ff"/>
<circle cx="251.06" cy="237.86" r="1.6" fill="#1414ff"/>
<circle cx="262.2" cy="236.77" r="1.6" fill="#1414ff"/>
<circle cx="264.17" cy="238.51" r="1.6" fill="#1414ff"/>
<circle cx="275.3" cy="227.6" r="1.6" fill="#1414ff"/>
<circle cx="275.3" cy="233.06" r="1.6" fill="#1414ff"/>
<circle cx="277.26" cy="233.71" r="1.6" fill="#1414ff"/>
<circle cx="283.81" cy="233.06" r="1.6" fill="#1414ff"/>
<circle cx="288.4" cy="234.15" r="1.6" fill="#1414ff"/>
<circle cx="288.4" cy="247.24" r="1.6" fill="#1414ff"/>
<circle cx="311.32" cy="229.13" r="1.6" fill="#1414ff"/>
<circle cx="314.6" cy="230.88" r="1.6" fill="#1414ff"/>
<circle cx="314.6" cy="238.51" r="1.6" fill="#1414ff"/>
<circle cx="393.2" cy="237.86" r="1.6" fill="#1414ff"/>
<circle cx="393.2" cy="248.99" r="1.6" fill="#1414ff"/>
<text x="214.4" y="198.4" font-family='"Liberation Sans", sans-serif' font-size="10.2" font-weight="bold" fill="#000" stroke="#000" stroke-width="0.36" text-anchor="start">E.</text>
<line x1="5.8" y1="352.8" x2="19.4" y2="352.8" stroke="#1414ff" stroke-width="1.8"/>
<circle cx="12.6" cy="352.8" r="1.65" fill="#1414ff"/>
<line x1="75.6" y1="352.8" x2="89.2" y2="352.8" stroke="#ff2424" stroke-width="1.8"/>
<rect x="80.75" y="351.15" width="3.3" height="3.3" fill="#ff2424"/>
<line x1="141" y1="352.8" x2="154.6" y2="352.8" stroke="#44e43a" stroke-width="1.8"/>
<polygon points="147.8,350.99 149.45,354.12 146.15,354.12" fill="#44e43a"/>
<line x1="205.7" y1="352.8" x2="219.3" y2="352.8" stroke="#c23cf2" stroke-width="1.8"/>
<polygon points="212.5,354.62 214.15,351.48 210.85,351.48" fill="#c23cf2"/>
<line x1="297.9" y1="352.8" x2="311.5" y2="352.8" stroke="#f28a2e" stroke-width="1.8"/>
<polygon points="304.7,350.82 306.68,352.8 304.7,354.78 302.72,352.8" fill="#f28a2e"/>
<line x1="375.3" y1="352.8" x2="388.9" y2="352.8" stroke="#c0247c" stroke-width="1.8"/>
<circle cx="382.1" cy="352.8" r="1.65" fill="#5a1a5e"/>
<text x="26.9" y="356.6" font-family='"Liberation Serif", serif' font-size="11.6" font-weight="bold" fill="#000" stroke="#000" stroke-width="0.41" text-anchor="start">Control</text>
<text x="96.7" y="356.6" font-family='"Liberation Serif", serif' font-size="11.6" font-weight="bold" fill="#000" stroke="#000" stroke-width="0.41" text-anchor="start">SMJ-2</text>
<text x="161.9" y="356.6" font-family='"Liberation Serif", serif' font-size="11.6" font-weight="bold" fill="#000" stroke="#000" stroke-width="0.41" text-anchor="start">SMJ-4</text>
<text x="227.3" y="356.6" font-family='"Liberation Serif", serif' font-size="11.6" font-weight="bold" fill="#000" stroke="#000" stroke-width="0.41" text-anchor="start">Vancomycin</text>
<text x="319.5" y="356.6" font-family='"Liberation Serif", serif' font-size="11.6" font-weight="bold" fill="#000" stroke="#000" stroke-width="0.41" text-anchor="start">Linezolid</text>
<text x="396.6" y="356.6" font-family='"Liberation Serif", serif' font-size="11.6" font-weight="bold" fill="#000" stroke="#000" stroke-width="0.41" text-anchor="start">Oxacillin</text>
<text x="417.2" y="198.2" font-family='"Liberation Sans", sans-serif' font-size="10.7" font-weight="bold" fill="#000" stroke="#000" stroke-width="0.37" text-anchor="start">F.</text>
<defs>
<linearGradient id="bodyC" x1="0" y1="0" x2="0" y2="1">
 <stop offset="0" stop-color="#d0a094"/><stop offset="0.3" stop-color="#d4aa9e"/><stop offset="0.62" stop-color="#d8b6a8"/><stop offset="1" stop-color="#dec4b2"/>
</linearGradient>
<linearGradient id="bodyR2" x1="0" y1="0" x2="0" y2="1">
 <stop offset="0" stop-color="#9c3a46"/><stop offset="0.5" stop-color="#9e3e4c"/><stop offset="0.9" stop-color="#984454"/><stop offset="0.97" stop-color="#783a50"/><stop offset="1" stop-color="#683446"/>
</linearGradient>
<linearGradient id="bodyR3" x1="0" y1="0" x2="0" y2="1">
 <stop offset="0" stop-color="#a0322e"/><stop offset="0.5" stop-color="#a03632"/><stop offset="0.9" stop-color="#9a3a3e"/><stop offset="0.97" stop-color="#7a3240"/><stop offset="1" stop-color="#6a2e38"/>
</linearGradient>
<linearGradient id="bodyR4" x1="0" y1="0" x2="0" y2="1">
 <stop offset="0" stop-color="#a22c26"/><stop offset="0.5" stop-color="#a22e28"/><stop offset="0.88" stop-color="#9c342e"/><stop offset="0.96" stop-color="#7a2c2c"/><stop offset="1" stop-color="#682a2a"/>
</linearGradient>
<linearGradient id="bodyR5" x1="0" y1="0" x2="0" y2="1">
 <stop offset="0" stop-color="#9e2824"/><stop offset="0.5" stop-color="#a02a26"/><stop offset="0.88" stop-color="#9a302c"/><stop offset="0.96" stop-color="#782a2a"/><stop offset="1" stop-color="#662828"/>
</linearGradient>
<linearGradient id="shadeH" x1="0" y1="0" x2="1" y2="0">
 <stop offset="0" stop-color="#fff" stop-opacity="0.10"/><stop offset="0.15" stop-color="#fff" stop-opacity="0.06"/><stop offset="0.5" stop-color="#fff" stop-opacity="0"/><stop offset="0.85" stop-color="#fff" stop-opacity="0.04"/><stop offset="1" stop-color="#fff" stop-opacity="0.10"/>
</linearGradient>
<linearGradient id="baseG" x1="0" y1="0" x2="0" y2="1">
 <stop offset="0" stop-color="#d8c8b8" stop-opacity="0"/><stop offset="0.6" stop-color="#d8c8b8" stop-opacity="0.9"/><stop offset="1" stop-color="#e0d6cc"/>
</linearGradient>
<linearGradient id="clearG" x1="0" y1="0" x2="1" y2="0">
 <stop offset="0" stop-color="#8a1a20"/><stop offset="0.04" stop-color="#8a1a20"/><stop offset="0.07" stop-color="#c48890"/><stop offset="0.12" stop-color="#a45058"/><stop offset="0.2" stop-color="#86262e"/><stop offset="0.5" stop-color="#82232a"/><stop offset="0.82" stop-color="#86262e"/><stop offset="0.9" stop-color="#b46a74"/><stop offset="0.95" stop-color="#c48890"/><stop offset="0.97" stop-color="#8a1a20"/><stop offset="1" stop-color="#8a1a20"/>
</linearGradient>
</defs>
<rect x="415" y="222" width="43.3" height="63" fill="#9c1e1a"/>
<rect x="415" y="273" width="43.3" height="12" fill="url(#baseG)"/>
<rect x="415" y="273" width="2" height="8" fill="#9c1e1a"/>
<rect x="415.3" y="278.2" width="1.7" height="2.8" fill="#1e1010"/>
<rect x="456.3" y="273" width="2" height="8" fill="#9c1e1a"/>
<rect x="456.3" y="278.2" width="1.7" height="2.8" fill="#1e1010"/>
<rect x="421.2" y="227.6" width="34.9" height="53.8" rx="3.5" fill="url(#bodyC)"/>
<rect x="421.2" y="227.6" width="34.9" height="53.8" rx="3.5" fill="url(#shadeH)"/>
<path d="M421.2,227.6 Q438.65,228.8 456.1,227.6 L456.1,229.1 C454.6,237.6 422.7,237.6 421.2,229.1 Z" fill="#e4e0c8"/>
<path d="M424.2,228.6 Q438.65,231 453.1,228.6" fill="none" stroke="#f0ece2" stroke-width="1.3" opacity="0.8"/>
<rect x="455.8" y="232" width="2.5" height="45" fill="#c87a72" opacity="0.8"/>
<rect x="460.8" y="222" width="41" height="63.3" fill="#9c1e1a"/>
<rect x="460.8" y="273.3" width="41" height="12" fill="url(#baseG)"/>
<rect x="460.8" y="273.3" width="2" height="8" fill="#9c1e1a"/>
<rect x="461.1" y="278.5" width="1.7" height="2.8" fill="#1e1010"/>
<rect x="499.8" y="273.3" width="2" height="8" fill="#9c1e1a"/>
<rect x="499.8" y="278.5" width="1.7" height="2.8" fill="#1e1010"/>
<rect x="463.2" y="229.6" width="35.6" height="52.1" rx="3.5" fill="url(#bodyR2)"/>
<rect x="463.2" y="229.6" width="35.6" height="52.1" rx="3.5" fill="url(#shadeH)"/>
<path d="M463.2,230.2 Q481,229.6 498.8,229 L498.8,230.5 C497.3,239.8 464.7,239.8 463.2,231.7 Z" fill="#d2d6b4"/>
<path d="M466.2,231.2 Q481,231.8 495.8,230" fill="none" stroke="#e8e4da" stroke-width="1.3" opacity="0.8"/>
<rect x="503.6" y="222" width="44.4" height="64" fill="#9c1e1a"/>
<rect x="503.6" y="274" width="44.4" height="12" fill="url(#baseG)"/>
<rect x="503.6" y="274" width="2" height="8" fill="#9c1e1a"/>
<rect x="503.9" y="279.2" width="1.7" height="2.8" fill="#1e1010"/>
<rect x="546" y="274" width="2" height="8" fill="#9c1e1a"/>
<rect x="546" y="279.2" width="1.7" height="2.8" fill="#1e1010"/>
<rect x="505.6" y="224.6" width="38" height="57.8" rx="3.5" fill="url(#bodyR3)"/>
<rect x="505.6" y="224.6" width="38" height="57.8" rx="3.5" fill="url(#shadeH)"/>
<path d="M505.6,224.6 Q524.6,224.6 543.6,224.6 L543.6,226.1 C542.1,234 507.1,234 505.6,226.1 Z" fill="#d2d6b4"/>
<path d="M508.6,225.6 Q524.6,226.8 540.6,225.6" fill="none" stroke="#e8e4da" stroke-width="1.3" opacity="0.8"/>
<rect x="550.1" y="221.3" width="39.9" height="61.7" fill="#9c1e1a"/>
<rect x="550.1" y="271" width="39.9" height="12" fill="url(#baseG)"/>
<rect x="550.1" y="271" width="2" height="8" fill="#9c1e1a"/>
<rect x="550.4" y="276.2" width="1.7" height="2.8" fill="#1e1010"/>
<rect x="588" y="271" width="2" height="8" fill="#9c1e1a"/>
<rect x="588" y="276.2" width="1.7" height="2.8" fill="#1e1010"/>
<rect x="551.3" y="227.6" width="36.9" height="51.8" rx="3.5" fill="url(#bodyR4)"/>
<rect x="551.3" y="227.6" width="36.9" height="51.8" rx="3.5" fill="url(#shadeH)"/>
<path d="M551.3,227.6 Q569.75,232.4 588.2,227.6 L588.2,229.1 C586.7,240.4 552.8,240.4 551.3,229.1 Z" fill="#d2d6b4"/>
<path d="M554.3,228.6 Q569.75,234.6 585.2,228.6" fill="none" stroke="#e8e4da" stroke-width="1.3" opacity="0.8"/>
<rect x="551.1" y="221.3" width="37.9" height="2.4" fill="#e0e2d4"/>
<rect x="593" y="222.2" width="40.5" height="61.3" fill="#9c1e1a"/>
<rect x="593" y="271.5" width="40.5" height="12" fill="url(#baseG)"/>
<rect x="593" y="271.5" width="2" height="8" fill="#9c1e1a"/>
<rect x="593.3" y="276.7" width="1.7" height="2.8" fill="#1e1010"/>
<rect x="631.5" y="271.5" width="2" height="8" fill="#9c1e1a"/>
<rect x="631.5" y="276.7" width="1.7" height="2.8" fill="#1e1010"/>
<rect x="594.6" y="225.6" width="36.3" height="54.3" rx="3.5" fill="url(#bodyR5)"/>
<rect x="594.6" y="225.6" width="36.3" height="54.3" rx="3.5" fill="url(#shadeH)"/>
<path d="M594.6,226.4 Q612.75,225.6 630.9,224.8 L630.9,226.3 C629.4,235.2 596.1,235.2 594.6,227.9 Z" fill="#d2d6b4"/>
<path d="M597.6,227.4 Q612.75,227.8 627.9,225.8" fill="none" stroke="#e8e4da" stroke-width="1.3" opacity="0.8"/>
<rect x="634.9" y="220.8" width="49.5" height="64.2" fill="#9c1e1a"/>
<rect x="634.9" y="220.8" width="49.5" height="64.2" fill="#8a1a20"/>
<rect x="636.5" y="220.8" width="46.3" height="64.2" fill="#a63a4a"/>
<rect x="644.4" y="222.8" width="0.9" height="60.2" fill="#d8a8b0" opacity="0.35"/>
<rect x="650.9" y="222.8" width="0.9" height="60.2" fill="#d8a8b0" opacity="0.35"/>
<rect x="665.65" y="222.8" width="0.9" height="60.2" fill="#d8a8b0" opacity="0.35"/>
<rect x="674.4" y="222.8" width="0.9" height="60.2" fill="#d8a8b0" opacity="0.35"/>
<rect x="636.5" y="220.8" width="3.4" height="64.2" fill="#bc6272"/>
<rect x="679.4" y="220.8" width="3.4" height="64.2" fill="#b85a6a"/>
<rect x="639.9" y="220.8" width="1.2" height="64.2" fill="#d4a4ac" opacity="0.5"/>
<rect x="678.8" y="220.8" width="1.2" height="64.2" fill="#d4a4ac" opacity="0.5"/>
<path d="M638.9,232.8 C640.9,242.8 678.4,242.8 680.4,232.8 L680.4,236.3 C678.4,248.3 640.9,248.3 638.9,236.3 Z" fill="#d0b0b4" opacity="0.75"/>
<path d="M638.9,232.8 C640.9,242.8 678.4,242.8 680.4,232.8" fill="none" stroke="#ecdcdc" stroke-width="1.5"/>
<path d="M638.9,236.3 C640.9,248.3 678.4,248.3 680.4,236.3" fill="none" stroke="#e6d4d6" stroke-width="1.3"/>
<rect x="636.9" y="221.3" width="45.5" height="1.6" fill="#d4a8ae" opacity="0.8"/>
<rect x="636.9" y="282.4" width="45.5" height="1.8" fill="#dcc4c8"/>
<text x="424.4" y="296.2" font-family='"Liberation Serif", serif' font-size="10.5" font-weight="bold" fill="#000" stroke="#000" stroke-width="0.37" text-anchor="middle">Control</text>
<text x="465" y="296.2" font-family='"Liberation Serif", serif' font-size="10.5" font-weight="bold" fill="#000" stroke="#000" stroke-width="0.37" text-anchor="middle">SMJ-4</text>
<text x="509.5" y="296.2" font-family='"Liberation Serif", serif' font-size="10.5" font-weight="bold" fill="#000" stroke="#000" stroke-width="0.37" text-anchor="middle">Linezolid</text>
<text x="557.6" y="296.2" font-family='"Liberation Serif", serif' font-size="10.5" font-weight="bold" fill="#000" stroke="#000" stroke-width="0.37" text-anchor="middle">SMJ-2</text>
<text x="611.5" y="296.2" font-family='"Liberation Serif", serif' font-size="10.5" font-weight="bold" fill="#000" stroke="#000" stroke-width="0.37" text-anchor="middle">Vancomycin</text>
<text x="663.6" y="296.2" font-family='"Liberation Serif", serif' font-size="10.5" font-weight="bold" fill="#000" stroke="#000" stroke-width="0.37" text-anchor="middle">Oxacillin</text>
<text x="435.4" y="309.5" font-family='"Liberation Sans", sans-serif' font-size="8.8" font-weight="bold" fill="#000" stroke="#000" stroke-width="0.31" text-anchor="middle">1.26</text>
<text x="480.4" y="309.5" font-family='"Liberation Sans", sans-serif' font-size="8.8" font-weight="bold" fill="#000" stroke="#000" stroke-width="0.31" text-anchor="middle">0.16</text>
<text x="523.4" y="309.5" font-family='"Liberation Sans", sans-serif' font-size="8.8" font-weight="bold" fill="#000" stroke="#000" stroke-width="0.31" text-anchor="middle">0.12</text>
<text x="568.2" y="309.5" font-family='"Liberation Sans", sans-serif' font-size="8.8" font-weight="bold" fill="#000" stroke="#000" stroke-width="0.31" text-anchor="middle">0.04</text>
<text x="610.9" y="309.5" font-family='"Liberation Sans", sans-serif' font-size="8.8" font-weight="bold" fill="#000" stroke="#000" stroke-width="0.31" text-anchor="middle">0.04</text>
<text x="658.3" y="309.5" font-family='"Liberation Sans", sans-serif' font-size="8.8" font-weight="bold" fill="#000" stroke="#000" stroke-width="0.31" text-anchor="middle">0.04</text>
<text x="525.2" y="321.4" font-family='"Liberation Sans", sans-serif' font-size="10" font-weight="bold" fill="#000" stroke="#000" stroke-width="0.3">OD<tspan font-size="7" dy="2.2">600nm</tspan></text>
<text x="8.2" y="377.9" font-family='"Liberation Sans", sans-serif' font-size="10.8" font-weight="bold" fill="#000" stroke="#000" stroke-width="0.38" text-anchor="start">G.</text>
<line x1="44.5" y1="370.6" x2="44.5" y2="477.78" stroke="#3c3f92" stroke-width="1.4"/>
<line x1="43.9" y1="477.18" x2="209.74" y2="477.18" stroke="#3c3f92" stroke-width="1.4"/>
<line x1="41.5" y1="477.18" x2="44.5" y2="477.18" stroke="#3c3f92" stroke-width="1.2"/>
<text x="40.2" y="480.68" font-family='"Liberation Serif", serif' font-size="8.4" font-weight="normal" fill="#1a1a1a" stroke="#1a1a1a" stroke-width="0.3" text-anchor="end">6</text>
<line x1="41.5" y1="450.66" x2="44.5" y2="450.66" stroke="#3c3f92" stroke-width="1.2"/>
<text x="40.2" y="454.16" font-family='"Liberation Serif", serif' font-size="8.4" font-weight="normal" fill="#1a1a1a" stroke="#1a1a1a" stroke-width="0.3" text-anchor="end">7</text>
<line x1="41.5" y1="424.14" x2="44.5" y2="424.14" stroke="#3c3f92" stroke-width="1.2"/>
<text x="40.2" y="427.64" font-family='"Liberation Serif", serif' font-size="8.4" font-weight="normal" fill="#1a1a1a" stroke="#1a1a1a" stroke-width="0.3" text-anchor="end">8</text>
<line x1="41.5" y1="397.62" x2="44.5" y2="397.62" stroke="#3c3f92" stroke-width="1.2"/>
<text x="40.2" y="401.12" font-family='"Liberation Serif", serif' font-size="8.4" font-weight="normal" fill="#1a1a1a" stroke="#1a1a1a" stroke-width="0.3" text-anchor="end">9</text>
<line x1="41.5" y1="371.1" x2="44.5" y2="371.1" stroke="#3c3f92" stroke-width="1.2"/>
<text x="40.2" y="374.6" font-family='"Liberation Serif", serif' font-size="8.4" font-weight="normal" fill="#1a1a1a" stroke="#1a1a1a" stroke-width="0.3" text-anchor="end">10</text>
<line x1="44.5" y1="477.18" x2="44.5" y2="480.18" stroke="#3c3f92" stroke-width="1.2"/>
<text x="44.5" y="489.6" font-family='"Liberation Serif", serif' font-size="8.4" font-weight="normal" fill="#1a1a1a" stroke="#1a1a1a" stroke-width="0.3" text-anchor="middle">0</text>
<line x1="85.66" y1="477.18" x2="85.66" y2="480.18" stroke="#3c3f92" stroke-width="1.2"/>
<text x="85.66" y="489.6" font-family='"Liberation Serif", serif' font-size="8.4" font-weight="normal" fill="#1a1a1a" stroke="#1a1a1a" stroke-width="0.3" text-anchor="middle">6</text>
<line x1="126.82" y1="477.18" x2="126.82" y2="480.18" stroke="#3c3f92" stroke-width="1.2"/>
<text x="126.82" y="489.6" font-family='"Liberation Serif", serif' font-size="8.4" font-weight="normal" fill="#1a1a1a" stroke="#1a1a1a" stroke-width="0.3" text-anchor="middle">12</text>
<line x1="167.98" y1="477.18" x2="167.98" y2="480.18" stroke="#3c3f92" stroke-width="1.2"/>
<text x="167.98" y="489.6" font-family='"Liberation Serif", serif' font-size="8.4" font-weight="normal" fill="#1a1a1a" stroke="#1a1a1a" stroke-width="0.3" text-anchor="middle">18</text>
<line x1="209.14" y1="477.18" x2="209.14" y2="480.18" stroke="#3c3f92" stroke-width="1.2"/>
<text x="209.14" y="489.6" font-family='"Liberation Serif", serif' font-size="8.4" font-weight="normal" fill="#1a1a1a" stroke="#1a1a1a" stroke-width="0.3" text-anchor="middle">24</text>
<text x="30.3" y="423.8" font-family='"Liberation Serif", serif' font-size="11" font-weight="bold" fill="#000" text-anchor="middle" transform="rotate(-90 30.3 423.8)">Log<tspan font-size="7.48" dy="2.42">10</tspan><tspan dy="-2.42"> CFU</tspan></text>
<text x="127" y="501.3" font-family='"Liberation Serif", serif' font-size="10.8" font-weight="bold" fill="#000" stroke="#000" stroke-width="0.38" text-anchor="middle">Time (h)</text>
<polyline points="44.5,405.58 58.22,399.21 71.94,394.44 85.66,388.07 99.38,388.07 209.14,379.06" fill="none" stroke="#f23c9e" stroke-width="1.4" stroke-linejoin="round" stroke-linecap="round"/>
<circle cx="44.5" cy="405.58" r="1.65" fill="#f23c9e"/>
<circle cx="46.56" cy="405.05" r="1.65" fill="#f23c9e"/>
<circle cx="48.62" cy="405.58" r="1.65" fill="#f23c9e"/>
<circle cx="53.08" cy="396.56" r="1.65" fill="#f23c9e"/>
<circle cx="58.22" cy="398.15" r="1.65" fill="#f23c9e"/>
<circle cx="58.22" cy="403.19" r="1.65" fill="#f23c9e"/>
<circle cx="69.54" cy="394.17" r="1.65" fill="#f23c9e"/>
<circle cx="71.25" cy="398.68" r="1.65" fill="#f23c9e"/>
<circle cx="74.68" cy="394.97" r="1.65" fill="#f23c9e"/>
<circle cx="85.66" cy="385.69" r="1.65" fill="#f23c9e"/>
<circle cx="85.66" cy="392.05" r="1.65" fill="#f23c9e"/>
<circle cx="88.4" cy="388.34" r="1.65" fill="#f23c9e"/>
<circle cx="93.89" cy="385.16" r="1.65" fill="#f23c9e"/>
<circle cx="99.38" cy="387.01" r="1.65" fill="#f23c9e"/>
<circle cx="99.38" cy="394.17" r="1.65" fill="#f23c9e"/>
<circle cx="209.14" cy="375.87" r="1.65" fill="#f23c9e"/>
<circle cx="209.14" cy="383.03" r="1.65" fill="#f23c9e"/>
<polyline points="44.5,407.7 58.22,447.48 71.94,467.1 85.66,466.57 99.38,466.04 209.14,464.45" fill="none" stroke="#f28a2e" stroke-width="1.4" stroke-linejoin="round" stroke-linecap="round"/>
<rect x="42.85" y="406.58" width="3.3" height="3.3" fill="#f28a2e"/>
<rect x="44.91" y="405.25" width="3.3" height="3.3" fill="#f28a2e"/>
<rect x="56.57" y="438.4" width="3.3" height="3.3" fill="#f28a2e"/>
<rect x="56.57" y="446.36" width="3.3" height="3.3" fill="#f28a2e"/>
<rect x="59.31" y="443.71" width="3.3" height="3.3" fill="#f28a2e"/>
<rect x="57.94" y="445.56" width="3.3" height="3.3" fill="#f28a2e"/>
<rect x="70.29" y="463.6" width="3.3" height="3.3" fill="#f28a2e"/>
<rect x="70.29" y="468.9" width="3.3" height="3.3" fill="#f28a2e"/>
<rect x="73.03" y="464.92" width="3.3" height="3.3" fill="#f28a2e"/>
<rect x="79.21" y="460.94" width="3.3" height="3.3" fill="#f28a2e"/>
<rect x="84.01" y="463.6" width="3.3" height="3.3" fill="#f28a2e"/>
<rect x="84.01" y="470.76" width="3.3" height="3.3" fill="#f28a2e"/>
<rect x="97.73" y="460.94" width="3.3" height="3.3" fill="#f28a2e"/>
<rect x="97.73" y="467.57" width="3.3" height="3.3" fill="#f28a2e"/>
<rect x="100.47" y="464.39" width="3.3" height="3.3" fill="#f28a2e"/>
<rect x="204.06" y="460.94" width="3.3" height="3.3" fill="#f28a2e"/>
<rect x="207.49" y="461.74" width="3.3" height="3.3" fill="#f28a2e"/>
<rect x="207.49" y="467.04" width="3.3" height="3.3" fill="#f28a2e"/>
<line x1="32.3" y1="513" x2="43" y2="513" stroke="#f23c9e" stroke-width="1.6"/>
<circle cx="37.65" cy="513" r="1.4" fill="#f23c9e"/>
<text x="48.1" y="516.5" font-family='"Liberation Serif", serif' font-size="10.6" font-weight="bold" fill="#000" stroke="#000" stroke-width="0.37" text-anchor="start">Control</text>
<line x1="100" y1="513" x2="111.8" y2="513" stroke="#f28a2e" stroke-width="1.6"/>
<rect x="104.4" y="511.5" width="3" height="3" fill="#f28a2e"/>
<text x="116.1" y="516.56" font-family='"Liberation Serif", serif' font-size="10.8" font-weight="bold" fill="#000" stroke="#000" stroke-width="0.38" text-anchor="start">Oxacillin (10 × MIC )</text>
<text x="350.6" y="377.9" font-family='"Liberation Sans", sans-serif' font-size="10.6" font-weight="bold" fill="#000" stroke="#000" stroke-width="0.37" text-anchor="start">H.</text>
<line x1="390.3" y1="390.5" x2="390.3" y2="497.88" stroke="#3c3f92" stroke-width="1.4"/>
<line x1="389.7" y1="497.28" x2="555.54" y2="497.28" stroke="#3c3f92" stroke-width="1.4"/>
<line x1="387.3" y1="497.28" x2="390.3" y2="497.28" stroke="#3c3f92" stroke-width="1.2"/>
<text x="386" y="499.88" font-family='"Liberation Sans", sans-serif' font-size="7.5" font-weight="bold" fill="#222" stroke="#222" stroke-width="0.3" text-anchor="end">3</text>
<line x1="387.3" y1="470.71" x2="390.3" y2="470.71" stroke="#3c3f92" stroke-width="1.2"/>
<text x="386" y="473.31" font-family='"Liberation Sans", sans-serif' font-size="7.5" font-weight="bold" fill="#222" stroke="#222" stroke-width="0.3" text-anchor="end">4</text>
<line x1="387.3" y1="444.14" x2="390.3" y2="444.14" stroke="#3c3f92" stroke-width="1.2"/>
<text x="386" y="446.74" font-family='"Liberation Sans", sans-serif' font-size="7.5" font-weight="bold" fill="#222" stroke="#222" stroke-width="0.3" text-anchor="end">5</text>
<line x1="387.3" y1="417.57" x2="390.3" y2="417.57" stroke="#3c3f92" stroke-width="1.2"/>
<text x="386" y="420.17" font-family='"Liberation Sans", sans-serif' font-size="7.5" font-weight="bold" fill="#222" stroke="#222" stroke-width="0.3" text-anchor="end">6</text>
<line x1="387.3" y1="391" x2="390.3" y2="391" stroke="#3c3f92" stroke-width="1.2"/>
<text x="386" y="393.6" font-family='"Liberation Sans", sans-serif' font-size="7.5" font-weight="bold" fill="#222" stroke="#222" stroke-width="0.3" text-anchor="end">7</text>
<line x1="390.3" y1="497.28" x2="390.3" y2="500.28" stroke="#3c3f92" stroke-width="1.2"/>
<text x="390.3" y="509.2" font-family='"Liberation Sans", sans-serif' font-size="7.5" font-weight="bold" fill="#222" stroke="#222" stroke-width="0.3" text-anchor="middle">0</text>
<line x1="431.46" y1="497.28" x2="431.46" y2="500.28" stroke="#3c3f92" stroke-width="1.2"/>
<text x="431.46" y="509.2" font-family='"Liberation Sans", sans-serif' font-size="7.5" font-weight="bold" fill="#222" stroke="#222" stroke-width="0.3" text-anchor="middle">6</text>
<line x1="472.62" y1="497.28" x2="472.62" y2="500.28" stroke="#3c3f92" stroke-width="1.2"/>
<text x="472.62" y="509.2" font-family='"Liberation Sans", sans-serif' font-size="7.5" font-weight="bold" fill="#222" stroke="#222" stroke-width="0.3" text-anchor="middle">12</text>
<line x1="513.78" y1="497.28" x2="513.78" y2="500.28" stroke="#3c3f92" stroke-width="1.2"/>
<text x="513.78" y="509.2" font-family='"Liberation Sans", sans-serif' font-size="7.5" font-weight="bold" fill="#222" stroke="#222" stroke-width="0.3" text-anchor="middle">18</text>
<line x1="554.94" y1="497.28" x2="554.94" y2="500.28" stroke="#3c3f92" stroke-width="1.2"/>
<text x="554.94" y="509.2" font-family='"Liberation Sans", sans-serif' font-size="7.5" font-weight="bold" fill="#222" stroke="#222" stroke-width="0.3" text-anchor="middle">24</text>
<text x="376.2" y="444.6" font-family='"Liberation Serif", serif' font-size="11" font-weight="bold" fill="#000" text-anchor="middle" transform="rotate(-90 376.2 444.6)">Log<tspan font-size="7.48" dy="2.42">10</tspan><tspan dy="-2.42"> CFU</tspan></text>
<text x="472.6" y="517.3" font-family='"Liberation Serif", serif' font-size="10.8" font-weight="bold" fill="#000" stroke="#000" stroke-width="0.38" text-anchor="middle">Time (h)</text>
<polyline points="390.3,399.77 404.02,403.22 431.46,403.22 445.18,403.75 554.94,405.61" fill="none" stroke="#f23c9e" stroke-width="1.4" stroke-linejoin="round" stroke-linecap="round"/>
<circle cx="390.3" cy="398.44" r="1.6" fill="#f23c9e"/>
<circle cx="392.36" cy="398.97" r="1.6" fill="#f23c9e"/>
<circle cx="394.42" cy="398.44" r="1.6" fill="#f23c9e"/>
<circle cx="402.65" cy="401.1" r="1.6" fill="#f23c9e"/>
<circle cx="406.08" cy="402.96" r="1.6" fill="#f23c9e"/>
<circle cx="431.46" cy="401.1" r="1.6" fill="#f23c9e"/>
<circle cx="431.46" cy="402.96" r="1.6" fill="#f23c9e"/>
<circle cx="431.46" cy="407.47" r="1.6" fill="#f23c9e"/>
<circle cx="434.89" cy="403.75" r="1.6" fill="#f23c9e"/>
<circle cx="445.18" cy="399.77" r="1.6" fill="#f23c9e"/>
<circle cx="445.18" cy="403.75" r="1.6" fill="#f23c9e"/>
<circle cx="447.92" cy="403.75" r="1.6" fill="#f23c9e"/>
<circle cx="445.18" cy="406.94" r="1.6" fill="#f23c9e"/>
<circle cx="554.94" cy="401.63" r="1.6" fill="#f23c9e"/>
<circle cx="554.94" cy="409.07" r="1.6" fill="#f23c9e"/>
<circle cx="554.94" cy="410.93" r="1.6" fill="#f23c9e"/>
<polyline points="390.3,402.69 404.02,404.29 431.46,421.29 445.18,421.29 554.94,419.43" fill="none" stroke="#66f23c" stroke-width="1.4" stroke-linejoin="round" stroke-linecap="round"/>
<polygon points="390.3,401.4 391.86,402.96 390.3,404.52 388.74,402.96" fill="#66f23c"/>
<polygon points="404.02,402.73 405.58,404.29 404.02,405.85 402.46,404.29" fill="#66f23c"/>
<polygon points="431.46,420 433.02,421.56 431.46,423.12 429.9,421.56" fill="#66f23c"/>
<polygon points="445.18,416.01 446.74,417.57 445.18,419.13 443.62,417.57" fill="#66f23c"/>
<polygon points="445.18,421.32 446.74,422.88 445.18,424.44 443.62,422.88" fill="#66f23c"/>
<polygon points="554.94,413.35 556.5,414.91 554.94,416.47 553.38,414.91" fill="#66f23c"/>
<polygon points="554.94,422.65 556.5,424.21 554.94,425.77 553.38,424.21" fill="#66f23c"/>
<polyline points="390.3,402.96 404.02,409.86 431.46,421.29 445.18,428.73 554.94,439.62" fill="none" stroke="#4e0f5e" stroke-width="1.4" stroke-linejoin="round" stroke-linecap="round"/>
<circle cx="407.45" cy="410.93" r="1.8" fill="#4e0f5e"/>
<circle cx="431.46" cy="417.57" r="1.8" fill="#4e0f5e"/>
<circle cx="431.46" cy="425.01" r="1.8" fill="#4e0f5e"/>
<circle cx="443.12" cy="426.87" r="1.8" fill="#4e0f5e"/>
<circle cx="445.18" cy="430.32" r="1.8" fill="#4e0f5e"/>
<circle cx="447.92" cy="428.73" r="1.8" fill="#4e0f5e"/>
<circle cx="551.51" cy="437.5" r="1.8" fill="#4e0f5e"/>
<circle cx="554.94" cy="438.83" r="1.8" fill="#4e0f5e"/>
<circle cx="554.94" cy="444.14" r="1.8" fill="#4e0f5e"/>
<polyline points="390.3,401.63 404.02,410.93 431.46,431.39 445.18,436.7 554.94,452.11" fill="none" stroke="#f28a2e" stroke-width="1.4" stroke-linejoin="round" stroke-linecap="round"/>
<rect x="388.6" y="398.6" width="3.4" height="3.4" fill="#f28a2e"/>
<rect x="388.6" y="401.26" width="3.4" height="3.4" fill="#f28a2e"/>
<rect x="390.66" y="399.93" width="3.4" height="3.4" fill="#f28a2e"/>
<rect x="398.89" y="405.24" width="3.4" height="3.4" fill="#f28a2e"/>
<rect x="402.32" y="407.9" width="3.4" height="3.4" fill="#f28a2e"/>
<rect x="402.32" y="413.21" width="3.4" height="3.4" fill="#f28a2e"/>
<rect x="429.76" y="429.16" width="3.4" height="3.4" fill="#f28a2e"/>
<rect x="432.5" y="430.48" width="3.4" height="3.4" fill="#f28a2e"/>
<rect x="429.76" y="434.47" width="3.4" height="3.4" fill="#f28a2e"/>
<rect x="443.48" y="433.14" width="3.4" height="3.4" fill="#f28a2e"/>
<rect x="445.54" y="435.8" width="3.4" height="3.4" fill="#f28a2e"/>
<rect x="443.48" y="439.78" width="3.4" height="3.4" fill="#f28a2e"/>
<rect x="550.5" y="449.08" width="3.4" height="3.4" fill="#f28a2e"/>
<rect x="553.24" y="450.41" width="3.4" height="3.4" fill="#f28a2e"/>
<rect x="553.24" y="453.07" width="3.4" height="3.4" fill="#f28a2e"/>
<polyline points="390.3,404.29 404.02,413.58 431.46,438.56 445.18,440.69 554.94,460.88" fill="none" stroke="#8e8c1e" stroke-width="1.4" stroke-linejoin="round" stroke-linecap="round"/>
<polygon points="390.3,402.64 391.8,405.49 388.8,405.49" fill="#8e8c1e"/>
<polygon points="399.9,410.61 401.4,413.46 398.4,413.46" fill="#8e8c1e"/>
<polygon points="404.02,415.92 405.52,418.77 402.52,418.77" fill="#8e8c1e"/>
<polygon points="425.97,431.86 427.47,434.71 424.47,434.71" fill="#8e8c1e"/>
<polygon points="431.46,437.18 432.96,440.03 429.96,440.03" fill="#8e8c1e"/>
<polygon points="441.75,435.85 443.25,438.7 440.25,438.7" fill="#8e8c1e"/>
<polygon points="445.18,438.5 446.68,441.35 443.68,441.35" fill="#8e8c1e"/>
<polygon points="554.94,458.43 556.44,461.28 553.44,461.28" fill="#8e8c1e"/>
<polygon points="554.94,461.09 556.44,463.94 553.44,463.94" fill="#8e8c1e"/>
<polyline points="390.3,404.29 404.02,414.91 431.46,438.83 445.18,443.08 554.94,468.85" fill="none" stroke="#3c9a28" stroke-width="1.4" stroke-linejoin="round" stroke-linecap="round"/>
<polygon points="390.3,411.25 391.8,408.4 388.8,408.4" fill="#3c9a28"/>
<polygon points="390.3,405.94 391.8,403.09 388.8,403.09" fill="#3c9a28"/>
<polygon points="404.02,420.55 405.52,417.7 402.52,417.7" fill="#3c9a28"/>
<polygon points="431.46,445.79 432.96,442.94 429.96,442.94" fill="#3c9a28"/>
<polygon points="431.46,440.48 432.96,437.63 429.96,437.63" fill="#3c9a28"/>
<polygon points="445.18,445.79 446.68,442.94 443.68,442.94" fill="#3c9a28"/>
<polygon points="554.94,469.7 556.44,466.85 553.44,466.85" fill="#3c9a28"/>
<polygon points="554.94,475.02 556.44,472.17 553.44,472.17" fill="#3c9a28"/>
<line x1="565.4" y1="407.2" x2="574.2" y2="407.2" stroke="#f23c9e" stroke-width="1.8"/>
<circle cx="569.8" cy="407.2" r="1.8" fill="#f23c9e"/>
<text x="580.2" y="410.76" font-family='"Liberation Serif", serif' font-size="10.8" font-weight="bold" fill="#000" stroke="#000" stroke-width="0.38" text-anchor="start">Control</text>
<line x1="565.4" y1="422.28" x2="574.2" y2="422.28" stroke="#66f23c" stroke-width="1.8"/>
<polygon points="569.8,420.12 571.96,422.28 569.8,424.44 567.64,422.28" fill="#66f23c"/>
<text x="580.2" y="425.84" font-family='"Liberation Serif", serif' font-size="10.8" font-weight="bold" fill="#000" stroke="#000" stroke-width="0.38" text-anchor="start">Linezolid (10 × MIC)</text>
<line x1="565.4" y1="437.36" x2="574.2" y2="437.36" stroke="#4e0f5e" stroke-width="1.8"/>
<circle cx="569.8" cy="437.36" r="1.8" fill="#4e0f5e"/>
<text x="580.2" y="440.92" font-family='"Liberation Serif", serif' font-size="10.8" font-weight="bold" fill="#000" stroke="#000" stroke-width="0.38" text-anchor="start">Linezolid (20 × MIC)</text>
<line x1="565.4" y1="452.44" x2="574.2" y2="452.44" stroke="#f28a2e" stroke-width="1.8"/>
<rect x="568" y="450.64" width="3.6" height="3.6" fill="#f28a2e"/>
<text x="580.2" y="456" font-family='"Liberation Serif", serif' font-size="10.8" font-weight="bold" fill="#000" stroke="#000" stroke-width="0.38" text-anchor="start">SMJ-2 (5 x MIC)</text>
<line x1="565.4" y1="467.52" x2="574.2" y2="467.52" stroke="#8e8c1e" stroke-width="1.8"/>
<polygon points="569.8,465.54 571.6,468.96 568,468.96" fill="#8e8c1e"/>
<text x="580.2" y="471.08" font-family='"Liberation Serif", serif' font-size="10.8" font-weight="bold" fill="#000" stroke="#000" stroke-width="0.38" text-anchor="start">SMJ-2 (10 x MIC)</text>
<line x1="565.4" y1="482.6" x2="574.2" y2="482.6" stroke="#3c9a28" stroke-width="1.8"/>
<polygon points="569.8,484.58 571.6,481.16 568,481.16" fill="#3c9a28"/>
<text x="580.2" y="486.16" font-family='"Liberation Serif", serif' font-size="10.8" font-weight="bold" fill="#000" stroke="#000" stroke-width="0.38" text-anchor="start">SMJ-2 (20 x MIC)</text>
</svg>
</body></html>
